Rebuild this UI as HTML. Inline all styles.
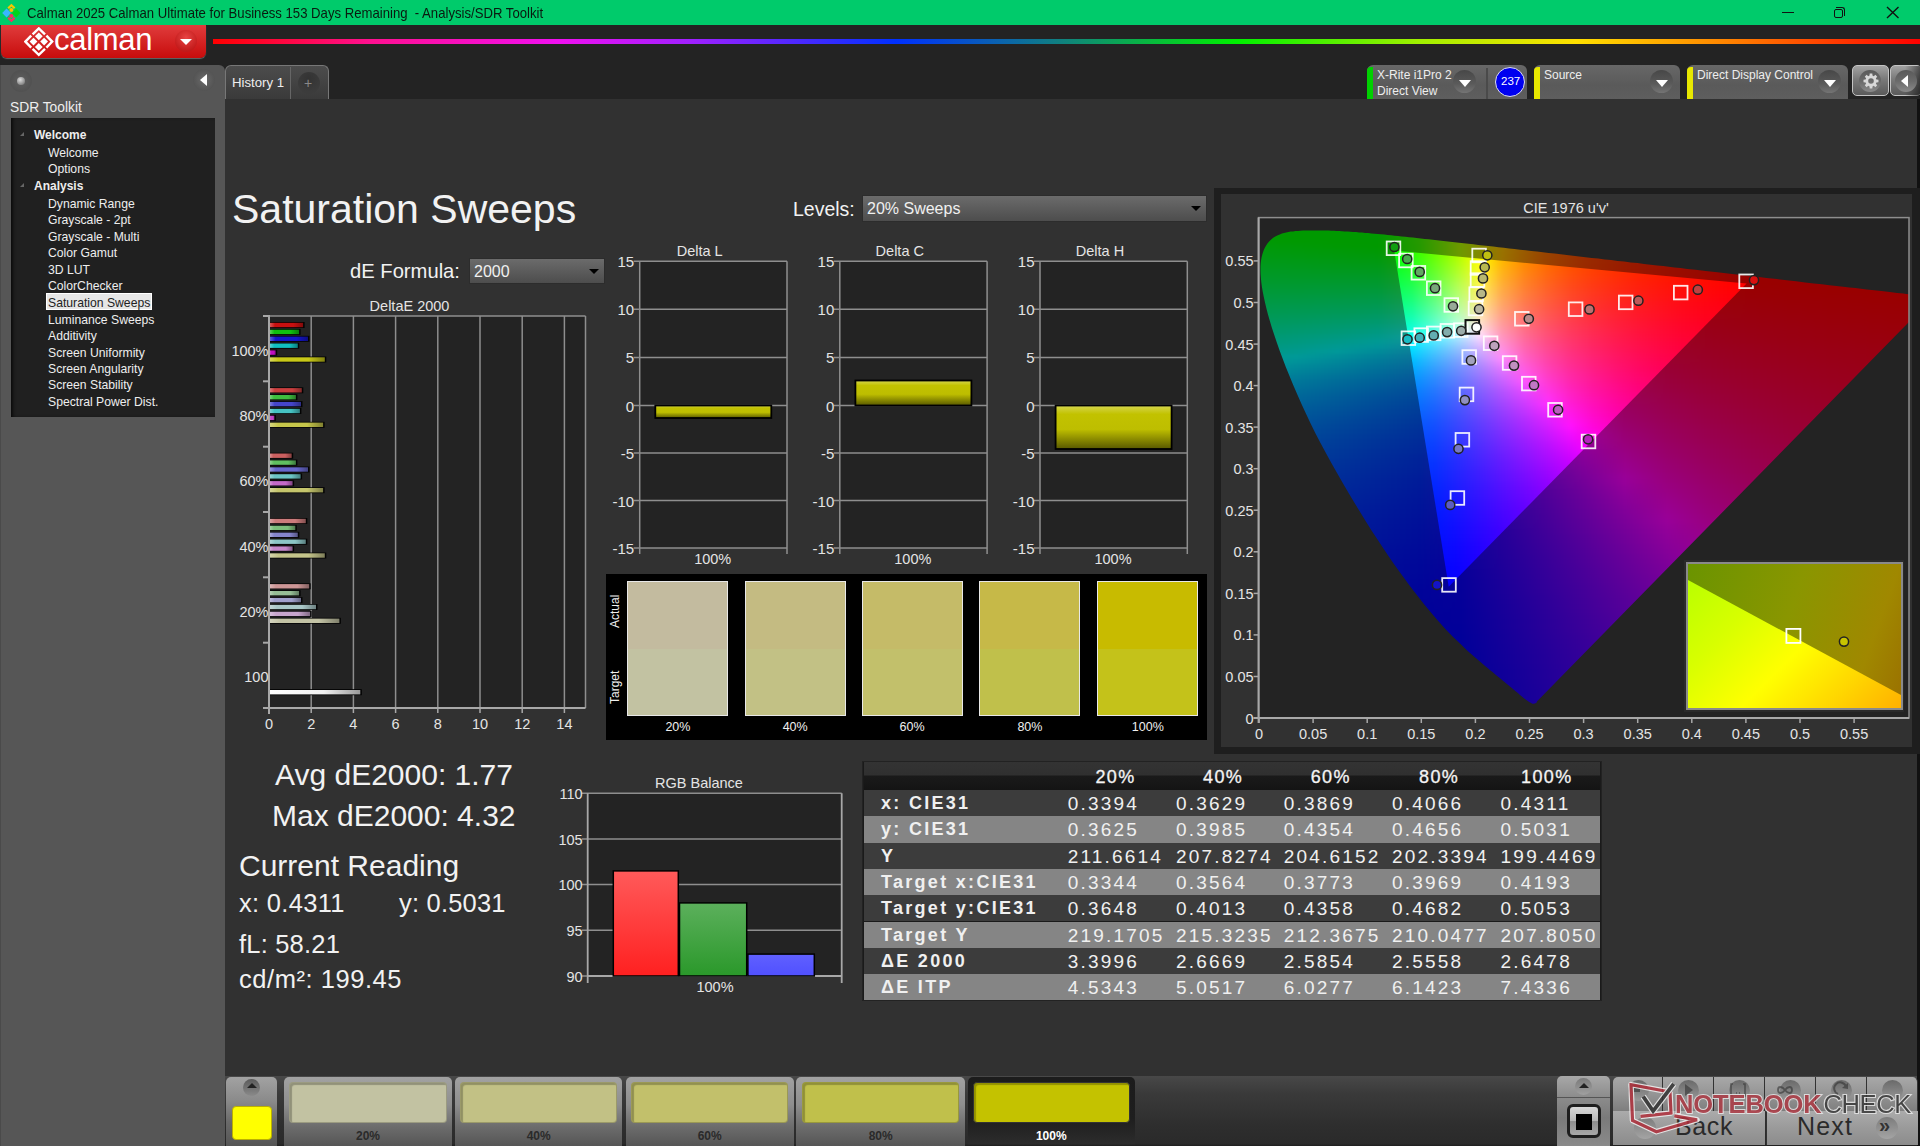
<!DOCTYPE html>
<html><head><meta charset="utf-8"><style>
*{margin:0;padding:0;box-sizing:border-box}
html,body{width:1920px;height:1146px;overflow:hidden;background:#232323;font-family:"Liberation Sans",sans-serif;color:#eee}
.a{position:absolute;white-space:nowrap}
#title{left:0;top:0;width:1920px;height:25px;background:#00cb6b}
#title .t{left:26.5px;top:5px;font-size:14.8px;color:#0a1a10;transform:scaleX(0.888);transform-origin:0 0}
#logo{left:1px;top:25px;width:205px;height:33px;border-radius:0 0 6px 6px;background:linear-gradient(#e03c3c,#c80c0c);box-shadow:0 1px 1px #666}
#rainbow{left:213px;top:39px;width:1707px;height:5px;background:linear-gradient(90deg,#ff0000 0%,#ff1090 9.2%,#f010f0 20.2%,#a020ff 28%,#0030ff 40%,#108080 49.6%,#00f000 60%,#a0f000 70.6%,#ffe000 79.8%,#ff8000 89%,#ff0000 100%)}
#side{left:0;top:65px;width:225px;height:1081px;background:#565656;border-radius:0 6px 0 0;border-left:1px solid #4a4a4a}
#sideR{left:215px;top:118px;width:10px;height:1036px;background:#5e5e5e}
#tree{left:11px;top:118px;width:204px;height:299px;background:#202020;box-shadow:inset 3px 0 4px -2px #000}
#content{left:225px;top:99px;width:1692px;height:1047px;background:#313131}
#rstrip{left:1917px;top:99px;width:3px;height:1047px;background:#111}
.ti{position:absolute;font-size:12.2px;color:#eee;white-space:nowrap}
.tb{font-weight:bold;font-size:12px}
.tri{position:absolute;width:0;height:0;border-left:4px solid transparent;border-bottom:4px solid #666}
.circ{position:absolute;border-radius:50%}
.tbox{position:absolute;top:65px;height:34px;border-radius:6px 6px 0 0;background:linear-gradient(#676767,#5a5a5a 60%,#5e5e5e)}
.tbox .bar{position:absolute;left:0;top:2px;width:6px;bottom:0;border-radius:4px 0 0 0}
.tbox .lbl{position:absolute;left:10px;top:2px;font-size:12px;color:#eee;line-height:16px}
.dd{position:absolute;width:23px;height:23px;border-radius:50%;background:linear-gradient(#474747,#5a5a5a 60%,#747474)}
.dd:after{content:"";position:absolute;left:6px;top:10px;border-left:6px solid transparent;border-right:6px solid transparent;border-top:7px solid #fff}


.tv{font-size:19px;color:#f0f0f0;letter-spacing:2.2px}
.th{font-size:18px;color:#f4f4f4;letter-spacing:1.4px;font-weight:normal;-webkit-text-stroke:0.3px #f4f4f4}
.tl{font-size:18px;font-weight:bold;color:#f0f0f0;letter-spacing:2.3px}
.btn{border-radius:5px 5px 0 0;background:linear-gradient(#a2a2a2,#8a8a8a 35%,#6a6a6a 65%,#555)}
.dd2{position:absolute;background:linear-gradient(#6b6b6b,#4d4d4d);border:1px solid #444;color:#f0f0f0;font-size:16px;padding-left:4px;line-height:26px}
.dd2:after{content:"";position:absolute;right:5.5px;top:10px;border-left:5px solid transparent;border-right:5px solid transparent;border-top:5.5px solid #000}

.cl{position:absolute;overflow:hidden}
.cl div{position:absolute;left:0;width:100%}
.cl .bw{left:0;top:0;width:100%;height:100%;filter:blur(1.6px)}
</style></head><body>
<div id="title" class="a"><div class="a t">Calman 2025 Calman Ultimate for Business 153 Days Remaining&nbsp; - Analysis/SDR Toolkit</div></div>
<svg class="a" style="left:1px;top:3px" width="20" height="20" viewBox="0 0 20 20">
<path d="M6.4 4.6 L10.4 0.8 L14.4 4.6 L12.9 6.1 L10.4 3.7 L7.9 6.1Z" fill="#f7c600"/><circle cx="10.4" cy="6.9" r="2" fill="#f7c600"/>
<path d="M1.2 10 L5.6 5.6 L10 10 L5.6 14.4Z" fill="#38b6ff"/>
<path d="M10.8 10 L15.2 5.6 L19.6 10 L15.2 14.4Z" fill="#00d41c"/>
<path d="M6.4 15.4 L7.9 13.9 L10.4 16.3 L12.9 13.9 L14.4 15.4 L10.4 19.2Z" fill="#ff2a60"/><circle cx="10.4" cy="13.1" r="2" fill="#ff2a60"/>
</svg>
<div class="a" style="left:1782px;top:12px;width:11.5px;height:1px;background:#111"></div>
<div class="a" style="left:1834px;top:9px;width:9px;height:9px;border:1.3px solid #111;border-radius:2px"></div>
<div class="a" style="left:1836px;top:7px;width:9px;height:9px;border-top:1.3px solid #111;border-right:1.3px solid #111;border-radius:0 3px 0 0"></div>
<svg class="a" style="left:1886px;top:6px" width="14" height="14"><path d="M1 1L12.5 12M12.5 1L1 12" stroke="#111" stroke-width="1.4"/></svg>
<div id="logo" class="a"></div>
<svg class="a" style="left:24px;top:27px" width="30" height="30" viewBox="0 0 30 30">
<g fill="none" stroke="#fff" stroke-width="2.4" stroke-linejoin="miter">
<path d="M8.6 7.4 L14.8 1.4 L21 7.4"/><path d="M22.4 8.6 L28.2 14.6 L22.4 20.6"/><path d="M21 21.8 L14.8 27.8 L8.6 21.8"/><path d="M7.2 20.6 L1.4 14.6 L7.2 8.6"/></g>
<g fill="#fff"><path d="M14.8 5.4 L18.7 9.3 L14.8 13.2 L10.9 9.3Z"/><path d="M14.8 16 L18.7 19.9 L14.8 23.8 L10.9 19.9Z"/><path d="M9.5 10.7 L13.4 14.6 L9.5 18.5 L5.6 14.6Z"/><path d="M20.1 10.7 L24 14.6 L20.1 18.5 L16.2 14.6Z"/></g>
</svg>
<div class="a" style="left:54px;top:22px;font-size:31px;color:#fff;letter-spacing:-0.3px">calman</div>
<div class="circ" style="left:175px;top:30px;width:22px;height:22px;background:radial-gradient(circle at 50% 35%,#e84545,#c41c1c 70%,#b51414)"></div>
<div class="a" style="left:180px;top:39px;border-left:6px solid transparent;border-right:6px solid transparent;border-top:6px solid #fff"></div>
<div id="rainbow" class="a"></div>
<div id="side" class="a"></div>
<div class="circ" style="left:10px;top:70px;width:22px;height:22px;background:radial-gradient(circle,#5f5f5f,#4f4f4f 80%)"></div>
<div class="circ" style="left:17px;top:77px;width:8px;height:8px;background:radial-gradient(circle at 40% 35%,#ddd,#888 70%)"></div>
<div class="circ" style="left:193px;top:69px;width:22px;height:22px;background:radial-gradient(circle,#6a6a6a,#4f4f4f 85%)"></div>
<div class="a" style="left:200px;top:74px;border-top:6px solid transparent;border-bottom:6px solid transparent;border-right:7px solid #fff"></div>
<div class="a" style="left:10px;top:100px;font-size:13.8px;color:#eee">SDR Toolkit</div>
<div id="tree" class="a"></div>
<div class="ti tb" style="left:34px;top:127.6px">Welcome</div>
<div class="tri" style="left:20px;top:131.6px"></div>
<div class="ti" style="left:48px;top:145.7px">Welcome</div>
<div class="ti" style="left:48px;top:162.0px">Options</div>
<div class="ti tb" style="left:34px;top:179.0px">Analysis</div>
<div class="tri" style="left:20px;top:183.0px"></div>
<div class="ti" style="left:48px;top:196.5px">Dynamic Range</div>
<div class="ti" style="left:48px;top:213.0px">Grayscale - 2pt</div>
<div class="ti" style="left:48px;top:229.6px">Grayscale - Multi</div>
<div class="ti" style="left:48px;top:246.0px">Color Gamut</div>
<div class="ti" style="left:48px;top:263.0px">3D LUT</div>
<div class="ti" style="left:48px;top:279.0px">ColorChecker</div>
<div class="a" style="left:46px;top:293.1px;width:106px;height:17px;background:#e6e6e6;border:1px solid #fff"></div>
<div class="ti" style="left:48px;top:295.6px;color:#222">Saturation Sweeps</div>
<div class="ti" style="left:48px;top:312.5px">Luminance Sweeps</div>
<div class="ti" style="left:48px;top:329.0px">Additivity</div>
<div class="ti" style="left:48px;top:345.5px">Screen Uniformity</div>
<div class="ti" style="left:48px;top:361.5px">Screen Angularity</div>
<div class="ti" style="left:48px;top:378.0px">Screen Stability</div>
<div class="ti" style="left:48px;top:394.5px">Spectral Power Dist.</div>
<div id="content" class="a"></div>
<div id="rstrip" class="a"></div>
<div class="a" style="left:225px;top:65px;width:104px;height:34px;border-radius:6px 6px 0 0;background:linear-gradient(#4c4c4c,#3a3a3a);border:1px solid #777;border-bottom:none"></div>
<div class="a" style="left:290px;top:67px;width:1px;height:32px;background:#666"></div>
<div class="a" style="left:232px;top:75px;font-size:13.2px;color:#eee">History 1</div>
<div class="circ" style="left:298px;top:72px;width:22px;height:22px;background:radial-gradient(circle at 50% 30%,#333,#3c3c3c 70%)"></div>
<div class="a" style="left:304px;top:75px;font-size:14px;color:#888">+</div>
<div class="tbox" style="left:1367px;width:160px"><div class="bar" style="background:#00d000"></div><div class="lbl">X-Rite i1Pro 2<br>Direct View</div></div>
<div class="dd" style="left:1453px;top:70px"></div>
<div class="a" style="left:1486px;top:68px;width:2px;height:31px;background:#4a4a4a"></div>
<div class="circ" style="left:1495px;top:67px;width:30px;height:30px;background:#0000f0;border:1.5px solid #dde"></div>
<div class="a" style="left:1501px;top:75px;font-size:11.5px;color:#fff">237</div>
<div class="tbox" style="left:1534px;width:146px"><div class="bar" style="background:#e8e800"></div><div class="lbl">Source</div></div>
<div class="dd" style="left:1650px;top:70px"></div>
<div class="tbox" style="left:1687px;width:161px"><div class="bar" style="background:#e8e800"></div><div class="lbl">Direct Display Control</div></div>
<div class="dd" style="left:1818px;top:70px"></div>
<div class="a" style="left:1852px;top:65px;width:37px;height:31px;border-radius:5px;background:linear-gradient(#a2a2a2,#7a7a7a 45%,#5a5a5a);border:1.5px solid #c4c4c4"></div>
<div class="circ" style="left:1859px;top:69.5px;width:22px;height:22px;background:linear-gradient(#5a5a5a,#6a6a6a 50%,#8a8a8a)"></div>
<svg class="a" style="left:1860.5px;top:70.5px" width="20" height="20" viewBox="0 0 20 20"><path fill-rule="evenodd" fill="#d8d8d8" d="M15.40 8.51 L17.49 8.69 L17.49 11.31 L15.40 11.49 L14.87 12.76 L16.22 14.37 L14.37 16.22 L12.76 14.87 L11.49 15.40 L11.31 17.49 L8.69 17.49 L8.51 15.40 L7.24 14.87 L5.63 16.22 L3.78 14.37 L5.13 12.76 L4.60 11.49 L2.51 11.31 L2.51 8.69 L4.60 8.51 L5.13 7.24 L3.78 5.63 L5.63 3.78 L7.24 5.13 L8.51 4.60 L8.69 2.51 L11.31 2.51 L11.49 4.60 L12.76 5.13 L14.37 3.78 L16.22 5.63 L14.87 7.24Z M12.8 10 A2.8 2.8 0 1 0 7.2 10 A2.8 2.8 0 1 0 12.8 10Z"/></svg>
<div class="a" style="left:1890px;top:65px;width:32px;height:31px;border-radius:5px;background:linear-gradient(#a2a2a2,#7a7a7a 45%,#5a5a5a);border:1.5px solid #c4c4c4"></div><div class="a" style="left:1905px;top:66px;width:15px;height:30px;background:linear-gradient(90deg,rgba(0,0,0,0),rgba(0,0,0,0.5))"></div>
<div class="circ" style="left:1894.5px;top:69.5px;width:22px;height:22px;background:linear-gradient(#5a5a5a,#6a6a6a 50%,#8a8a8a)"></div>
<div class="a" style="left:1901px;top:75px;border-top:6px solid transparent;border-bottom:6px solid transparent;border-right:7px solid #fff"></div>
<div class="a" style="left:232px;top:186px;font-size:41px;color:#f2f2f2">Saturation Sweeps</div>
<div class="a" style="left:350px;top:260px;font-size:20.2px;color:#f2f2f2">dE Formula:</div>
<div class="dd2" style="left:469px;top:257.5px;width:136px;height:26.5px;border-color:#2c2c2c">2000</div>
<div class="a" style="left:793px;top:198px;font-size:19.5px;color:#f2f2f2">Levels:</div>
<div class="dd2" style="left:862px;top:195px;width:345px;height:26.5px;border-color:#2c2c2c">20% Sweeps</div>
<div class="a" style="left:1214px;top:188px;width:706px;height:566px;background:#1e1e1e"></div>
<div class="a" style="left:1221px;top:194px;width:691px;height:553px;background:#313131"></div>
<div class="a" style="left:1258.6px;top:217.6px;width:650.4000000000001px;height:500.4px;background:#232323"></div>
<div class="cl" style="left:1258.6px;top:228.4px;width:650.4px;height:477.4px;clip-path:polygon(278.3px 473.0px,278.3px 473.1px,278.3px 473.3px,278.2px 473.5px,278.2px 473.7px,278.1px 474.0px,278.0px 474.1px,277.9px 474.2px,277.8px 474.3px,277.6px 474.4px,277.5px 474.5px,277.3px 474.5px,277.1px 474.6px,277.0px 474.7px,276.8px 474.8px,276.6px 475.0px,276.3px 475.1px,276.1px 475.2px,275.8px 475.2px,275.5px 475.3px,275.2px 475.3px,274.9px 475.4px,274.5px 475.4px,274.0px 475.3px,273.3px 475.0px,272.5px 474.6px,271.6px 474.1px,270.6px 473.5px,269.5px 472.8px,268.1px 471.9px,266.7px 470.8px,265.0px 469.5px,263.3px 468.1px,261.4px 466.5px,259.3px 464.7px,257.0px 462.8px,254.4px 460.6px,251.4px 458.1px,248.0px 455.3px,244.4px 452.4px,240.8px 449.4px,237.3px 446.5px,234.2px 443.9px,231.6px 441.8px,229.3px 439.8px,227.1px 438.1px,225.0px 436.3px,222.8px 434.4px,220.4px 432.4px,217.8px 430.1px,215.1px 427.8px,212.3px 425.3px,209.4px 422.8px,206.5px 420.1px,203.5px 417.2px,200.4px 414.2px,197.2px 411.2px,194.0px 408.0px,190.6px 404.6px,187.0px 400.8px,183.2px 396.6px,179.2px 392.0px,174.9px 387.1px,170.5px 381.9px,165.9px 376.3px,161.2px 370.4px,156.3px 364.1px,151.3px 357.5px,146.2px 350.6px,140.9px 343.3px,135.5px 335.8px,130.0px 327.9px,124.5px 319.7px,118.9px 311.2px,113.1px 302.3px,107.3px 293.1px,101.5px 283.7px,95.7px 274.1px,90.0px 264.5px,84.3px 254.8px,78.6px 244.9px,72.9px 234.8px,67.3px 224.7px,61.9px 214.7px,56.8px 204.8px,52.0px 195.0px,47.3px 185.2px,42.9px 175.5px,38.6px 165.9px,34.6px 156.5px,30.9px 147.5px,27.3px 138.8px,24.1px 130.3px,21.0px 122.0px,18.2px 114.0px,15.6px 106.4px,13.2px 99.2px,11.2px 92.3px,9.3px 85.9px,7.7px 79.7px,6.4px 74.0px,5.2px 68.5px,4.1px 63.2px,3.3px 58.4px,2.7px 53.8px,2.3px 49.6px,2.0px 45.6px,1.9px 41.8px,1.9px 38.2px,2.1px 34.8px,2.5px 31.7px,3.0px 28.8px,3.7px 26.0px,4.5px 23.5px,5.4px 21.1px,6.5px 18.8px,7.7px 16.8px,9.0px 14.9px,10.5px 13.2px,12.0px 11.6px,13.7px 10.1px,15.4px 8.9px,17.2px 7.8px,19.2px 6.8px,21.2px 6.0px,23.3px 5.2px,25.4px 4.6px,27.6px 4.0px,29.8px 3.6px,32.2px 3.2px,34.5px 3.0px,36.9px 2.7px,39.3px 2.5px,41.8px 2.3px,44.3px 2.2px,46.9px 2.1px,49.4px 2.1px,52.0px 2.0px,54.6px 2.0px,57.1px 2.0px,59.7px 2.0px,62.2px 2.0px,64.8px 2.1px,67.4px 2.1px,70.0px 2.2px,72.6px 2.3px,75.3px 2.4px,77.9px 2.5px,80.6px 2.6px,83.4px 2.8px,86.1px 3.0px,88.9px 3.1px,91.8px 3.3px,94.6px 3.5px,97.5px 3.7px,100.5px 4.0px,103.5px 4.2px,106.5px 4.5px,109.6px 4.7px,112.7px 5.0px,115.9px 5.3px,119.1px 5.6px,122.3px 5.9px,125.7px 6.2px,129.0px 6.6px,132.5px 6.9px,136.0px 7.3px,139.5px 7.6px,143.1px 8.0px,146.8px 8.4px,150.5px 8.8px,154.3px 9.2px,158.1px 9.6px,162.1px 10.0px,166.1px 10.5px,170.1px 10.9px,174.3px 11.4px,178.5px 11.8px,182.7px 12.3px,187.1px 12.8px,191.5px 13.3px,196.0px 13.8px,200.5px 14.3px,205.2px 14.8px,209.9px 15.4px,214.7px 15.9px,219.6px 16.5px,224.5px 17.0px,229.6px 17.6px,234.7px 18.2px,239.9px 18.8px,245.2px 19.4px,250.5px 20.0px,255.9px 20.6px,261.5px 21.3px,267.0px 21.9px,272.7px 22.6px,278.4px 23.2px,284.3px 23.9px,290.1px 24.6px,296.1px 25.2px,302.1px 25.9px,308.2px 26.6px,314.4px 27.3px,320.6px 28.1px,326.9px 28.8px,333.2px 29.5px,339.6px 30.2px,346.1px 31.0px,352.6px 31.7px,359.1px 32.5px,365.6px 33.2px,372.2px 34.0px,378.9px 34.7px,385.5px 35.5px,392.1px 36.3px,398.7px 37.0px,404.7px 37.7px,410.3px 38.4px,415.9px 39.0px,421.9px 39.7px,428.7px 40.5px,437.0px 41.4px,447.1px 42.6px,458.8px 43.9px,471.4px 45.4px,484.3px 46.8px,496.7px 48.2px,508.0px 49.5px,518.3px 50.7px,528.2px 51.9px,537.6px 52.9px,546.6px 54.0px,555.2px 55.0px,563.3px 55.9px,570.9px 56.8px,577.9px 57.6px,584.6px 58.3px,590.8px 59.0px,596.8px 59.7px,602.5px 60.4px,608.0px 61.0px,613.2px 61.6px,618.1px 62.2px,622.8px 62.7px,627.1px 63.2px,631.2px 63.7px,635.0px 64.1px,638.5px 64.5px,641.7px 64.9px,644.7px 65.2px,647.5px 65.5px,650.1px 65.9px,652.5px 66.1px,654.6px 66.4px,656.6px 66.6px,658.4px 66.8px,660.3px 67.0px,662.2px 67.3px,664.5px 67.5px,666.9px 67.8px,669.3px 68.1px,671.6px 68.3px,673.5px 68.6px,674.9px 68.7px)">
<div class="bw">
<div style="top:-4px;height:6px;left:-4px;right:-4px;width:auto;background:linear-gradient(90deg,#009900 0px,#009900 41px,#009900 82px,#009900 123px,#289900 165px,#6c9900 206px,#997800 247px,#994b00 288px,#993200 329px,#992100 370px,#991600 412px,#990d00 453px,#990700 494px,#990100 535px,#990000 576px,#990000 617px,#990000 658px)"></div>
<div style="top:1px;height:6px;left:-4px;right:-4px;width:auto;background:linear-gradient(90deg,#009900 0px,#009900 41px,#009900 82px,#009900 123px,#279900 165px,#6d9900 206px,#997600 247px,#994a00 288px,#993100 329px,#992100 370px,#991500 412px,#990d00 453px,#990600 494px,#990100 535px,#990000 576px,#990000 617px,#990000 658px)"></div>
<div style="top:6px;height:6px;left:-4px;right:-4px;width:auto;background:linear-gradient(90deg,#009900 0px,#009900 41px,#009900 82px,#009900 123px,#279900 165px,#6d9900 206px,#997500 247px,#994900 288px,#993000 329px,#992000 370px,#991400 412px,#990c00 453px,#990500 494px,#990000 535px,#990000 576px,#990000 617px,#990000 658px)"></div>
<div style="top:11px;height:6px;left:-4px;right:-4px;width:auto;background:linear-gradient(90deg,#009904 0px,#009901 41px,#009900 82px,#009900 123px,#269900 165px,#6d9900 206px,#997400 247px,#994800 288px,#992f00 329px,#991f00 370px,#991400 412px,#990b00 453px,#990500 494px,#990000 535px,#990000 576px,#990000 617px,#990000 658px)"></div>
<div style="top:16px;height:6px;left:-4px;right:-4px;width:auto;background:linear-gradient(90deg,#009909 0px,#009906 41px,#009902 82px,#009900 123px,#259900 165px,#6e9900 206px,#997300 247px,#994700 288px,#992e00 329px,#991e00 370px,#991300 412px,#990b00 453px,#990400 494px,#990000 535px,#990000 576px,#990000 617px,#990000 658px)"></div>
<div style="top:21px;height:6px;left:-4px;right:-4px;width:auto;background:linear-gradient(90deg,#00990e 0px,#00990b 41px,#009908 82px,#009904 123px,#259900 165px,#6e9900 206px,#997200 247px,#994600 288px,#992d00 329px,#991d00 370px,#991200 412px,#990a00 453px,#990400 494px,#990000 535px,#990000 576px,#990000 617px,#990000 658px)"></div>
<div style="top:26px;height:6px;left:-4px;right:-4px;width:auto;background:linear-gradient(90deg,#009912 0px,#009910 41px,#00990d 82px,#00990a 123px,#249906 165px,#6e9900 206px,#997100 247px,#994500 288px,#992c00 329px,#991c00 370px,#991100 412px,#990900 453px,#990300 494px,#990000 535px,#990000 576px,#990000 617px,#990000 658px)"></div>
<div style="top:31px;height:6px;left:-4px;right:-4px;width:auto;background:linear-gradient(90deg,#009917 0px,#009916 41px,#009913 82px,#009910 123px,#23990d 165px,#6f9908 206px,#997002 247px,#994400 288px,#992b00 329px,#991c00 370px,#991100 412px,#990900 453px,#990200 494px,#990000 535px,#990000 576px,#990000 617px,#990000 658px)"></div>
<div style="top:36px;height:6px;left:-4px;right:-4px;width:auto;background:linear-gradient(90deg,#00991d 0px,#00991b 41px,#009919 82px,#009917 123px,#229914 165px,#6f9911 206px,#996e09 247px,#994302 288px,#992a00 329px,#991b00 370px,#991000 412px,#990800 453px,#990200 494px,#990000 535px,#990000 576px,#990000 617px,#990000 658px)"></div>
<div style="top:41px;height:6px;left:-4px;right:-4px;width:auto;background:linear-gradient(90deg,#009922 0px,#009921 41px,#00991f 82px,#00991e 123px,#22991c 165px,#709919 206px,#996d10 247px,#994207 288px,#992903 329px,#991a00 370px,#990f00 412px,#990700 453px,#990100 494px,#990000 535px,#990000 576px,#990000 617px,#990000 658px)"></div>
<div style="top:46px;height:6px;left:-4px;right:-4px;width:auto;background:linear-gradient(90deg,#009927 0px,#009926 41px,#009926 82px,#009925 123px,#219924 165px,#709922 206px,#996c17 247px,#99400c 288px,#992807 329px,#991903 370px,#990e01 412px,#990700 453px,#990100 494px,#990000 535px,#990000 576px,#990000 617px,#990000 658px)"></div>
<div style="top:51px;height:6px;left:-4px;right:-4px;width:auto;background:linear-gradient(90deg,#00992c 0px,#00992c 41px,#00992c 82px,#00992c 123px,#20992c 165px,#70992b 206px,#996b1e 247px,#993f11 288px,#99270b 329px,#991806 370px,#990e03 412px,#990601 453px,#990000 494px,#990000 535px,#990000 576px,#990000 617px,#990000 658px)"></div>
<div style="top:56px;height:6px;left:-4px;right:-4px;width:auto;background:linear-gradient(90deg,#009932 0px,#009932 41px,#009933 82px,#009933 123px,#1f9934 165px,#719935 206px,#996925 247px,#993e16 288px,#99260e 329px,#991709 370px,#990d06 412px,#990503 453px,#990001 494px,#990000 535px,#990000 576px,#990000 617px,#990000 658px)"></div>
<div style="top:61px;height:6px;left:-4px;right:-4px;width:auto;background:linear-gradient(90deg,#009938 0px,#009938 41px,#009939 82px,#00993b 123px,#1e993c 165px,#71993f 206px,#99682c 247px,#993d1c 288px,#992512 329px,#99160d 370px,#990c09 412px,#990506 453px,#990003 494px,#990002 535px,#990000 576px,#990000 617px,#990000 658px)"></div>
<div style="top:66px;height:6px;left:-4px;right:-4px;width:auto;background:linear-gradient(90deg,#00993d 0px,#00993f 41px,#009940 82px,#009943 123px,#1d9945 165px,#729949 206px,#996734 247px,#993c21 288px,#992416 329px,#991510 370px,#990b0b 412px,#990408 453px,#990005 494px,#990003 535px,#990002 576px,#990001 617px,#990000 658px)"></div>
<div style="top:71px;height:6px;left:-4px;right:-4px;width:auto;background:linear-gradient(90deg,#009943 0px,#009945 41px,#009948 82px,#00994b 123px,#1c994e 165px,#729953 206px,#99653c 247px,#993b26 288px,#99231a 329px,#991513 370px,#990a0e 412px,#99030a 453px,#990008 494px,#990005 535px,#990004 576px,#990002 617px,#990001 658px)"></div>
<div style="top:76px;height:6px;left:-4px;right:-4px;width:auto;background:linear-gradient(90deg,#009949 0px,#00994c 41px,#00994f 82px,#009953 123px,#1c9958 165px,#73995e 206px,#996443 247px,#99392c 288px,#99221f 329px,#991416 370px,#990a11 412px,#99020d 453px,#99000a 494px,#990007 535px,#990005 576px,#990004 617px,#990002 658px)"></div>
<div style="top:81px;height:6px;left:-4px;right:-4px;width:auto;background:linear-gradient(90deg,#00994f 0px,#009952 41px,#009956 82px,#00995b 123px,#1b9961 165px,#73996a 206px,#99634b 247px,#993831 288px,#992123 329px,#99131a 370px,#990914 412px,#99020f 453px,#99000c 494px,#990009 535px,#990007 576px,#990005 617px,#990004 658px)"></div>
<div style="top:86px;height:6px;left:-4px;right:-4px;width:auto;background:linear-gradient(90deg,#009955 0px,#009959 41px,#00995e 82px,#009964 123px,#1a996b 165px,#749975 206px,#996153 247px,#993736 288px,#992027 329px,#99121d 370px,#990816 412px,#990112 453px,#99000e 494px,#99000b 535px,#990009 576px,#990007 617px,#990005 658px)"></div>
<div style="top:91px;height:6px;left:-4px;right:-4px;width:auto;background:linear-gradient(90deg,#00995c 0px,#009960 41px,#009966 82px,#00996d 123px,#189976 165px,#749982 206px,#99605b 247px,#99363c 288px,#991f2b 329px,#991120 370px,#990719 412px,#990014 453px,#990010 494px,#99000d 535px,#99000a 576px,#990008 617px,#990006 658px)"></div>
<div style="top:96px;height:6px;left:-4px;right:-4px;width:auto;background:linear-gradient(90deg,#009962 0px,#009968 41px,#00996e 82px,#009976 123px,#179980 165px,#75998e 206px,#995e64 247px,#993442 288px,#991e2f 329px,#991024 370px,#99061c 412px,#990016 453px,#990012 494px,#99000f 535px,#99000c 576px,#99000a 617px,#990008 658px)"></div>
<div style="top:101px;height:6px;left:-4px;right:-4px;width:auto;background:linear-gradient(90deg,#009969 0px,#00996f 41px,#009976 82px,#009980 123px,#16998c 165px,#739699 206px,#995d6c 247px,#993347 288px,#991d33 329px,#990f27 370px,#99061f 412px,#990019 453px,#990014 494px,#990011 535px,#99000e 576px,#99000b 617px,#990009 658px)"></div>
<div style="top:106px;height:6px;left:-4px;right:-4px;width:auto;background:linear-gradient(90deg,#009970 0px,#009977 41px,#00997f 82px,#009989 123px,#159997 165px,#6b8a99 206px,#995b75 247px,#99324d 288px,#991c38 329px,#990e2b 370px,#990522 412px,#99001b 453px,#990016 494px,#990012 535px,#99000f 576px,#99000d 617px,#99000b 658px)"></div>
<div style="top:111px;height:6px;left:-4px;right:-4px;width:auto;background:linear-gradient(90deg,#009977 0px,#00997e 41px,#009988 82px,#009993 123px,#139099 165px,#637f99 206px,#995a7e 247px,#993053 288px,#991b3c 329px,#990d2e 370px,#990425 412px,#99001e 453px,#990018 494px,#990014 535px,#990011 576px,#99000e 617px,#99000c 658px)"></div>
<div style="top:116px;height:6px;left:-4px;right:-4px;width:auto;background:linear-gradient(90deg,#00997e 0px,#009986 41px,#009991 82px,#009499 123px,#108699 165px,#5c7699 206px,#995886 247px,#992f59 288px,#991a41 329px,#990c32 370px,#990328 412px,#990020 453px,#99001b 494px,#990016 535px,#990013 576px,#990010 617px,#99000e 658px)"></div>
<div style="top:121px;height:6px;left:-4px;right:-4px;width:auto;background:linear-gradient(90deg,#009985 0px,#00998e 41px,#009899 82px,#008b99 123px,#0e7c99 165px,#566d99 206px,#99578f 247px,#992e5f 288px,#991845 329px,#990b35 370px,#99022a 412px,#990023 453px,#99001d 494px,#990018 535px,#990015 576px,#990012 617px,#99000f 658px)"></div>
<div style="top:126px;height:6px;left:-4px;right:-4px;width:auto;background:linear-gradient(90deg,#00998d 0px,#009997 41px,#008f99 82px,#008299 123px,#0c7499 165px,#506599 206px,#995599 247px,#992c65 288px,#991749 329px,#990a39 370px,#99012d 412px,#990025 453px,#99001f 494px,#99001a 535px,#990016 576px,#990013 617px,#990010 658px)"></div>
<div style="top:131px;height:6px;left:-4px;right:-4px;width:auto;background:linear-gradient(90deg,#009994 0px,#009399 41px,#008799 82px,#007a99 123px,#0a6d99 165px,#4b5e99 206px,#904f99 247px,#992b6b 288px,#99164e 329px,#99093c 370px,#990130 412px,#990028 453px,#990021 494px,#99001c 535px,#990018 576px,#990015 617px,#990012 658px)"></div>
<div style="top:136px;height:6px;left:-4px;right:-4px;width:auto;background:linear-gradient(90deg,#009699 0px,#008b99 41px,#008099 82px,#007399 123px,#096699 165px,#465899 206px,#884999 247px,#992a71 288px,#991552 329px,#990840 370px,#990033 412px,#99002a 453px,#990023 494px,#99001e 535px,#99001a 576px,#990016 617px,#990013 658px)"></div>
<div style="top:141px;height:6px;left:-4px;right:-4px;width:auto;background:linear-gradient(90deg,#008f99 0px,#008499 41px,#007999 82px,#006d99 123px,#076099 165px,#425299 206px,#814399 247px,#992877 288px,#991457 329px,#990743 370px,#990036 412px,#99002d 453px,#990026 494px,#990020 535px,#99001c 576px,#990018 617px,#990015 658px)"></div>
<div style="top:146px;height:6px;left:-4px;right:-4px;width:auto;background:linear-gradient(90deg,#008899 0px,#007d99 41px,#007299 82px,#006799 123px,#065a99 165px,#3e4d99 206px,#7a3e99 247px,#99277d 288px,#99135c 329px,#990647 370px,#990039 412px,#99002f 453px,#990028 494px,#990022 535px,#99001d 576px,#99001a 617px,#990016 658px)"></div>
<div style="top:151px;height:6px;left:-4px;right:-4px;width:auto;background:linear-gradient(90deg,#008299 0px,#007799 41px,#006c99 82px,#006199 123px,#055599 165px,#3b4899 206px,#743a99 247px,#992584 288px,#991160 329px,#99054b 370px,#99003c 412px,#990032 453px,#99002a 494px,#990024 535px,#99001f 576px,#99001b 617px,#990018 658px)"></div>
<div style="top:156px;height:6px;left:-4px;right:-4px;width:auto;background:linear-gradient(90deg,#007c99 0px,#007299 41px,#006799 82px,#005c99 123px,#035099 165px,#374399 206px,#6f3699 247px,#99248a 288px,#991065 329px,#99044f 370px,#99003f 412px,#990035 453px,#99002c 494px,#990026 535px,#990021 576px,#99001d 617px,#990019 658px)"></div>
<div style="top:161px;height:6px;left:-4px;right:-4px;width:auto;background:linear-gradient(90deg,#007699 0px,#006c99 41px,#006299 82px,#005799 123px,#024b99 165px,#343f99 206px,#693299 247px,#992291 288px,#990f6a 329px,#990352 370px,#990042 412px,#990037 453px,#99002f 494px,#990028 535px,#990023 576px,#99001e 617px,#99001b 658px)"></div>
<div style="top:166px;height:6px;left:-4px;right:-4px;width:auto;background:linear-gradient(90deg,#007199 0px,#006799 41px,#005d99 82px,#005299 123px,#014799 165px,#323b99 206px,#652e99 247px,#992198 288px,#990e6f 329px,#990256 370px,#990046 412px,#99003a 453px,#990031 494px,#99002a 535px,#990024 576px,#990020 617px,#99001c 658px)"></div>
<div style="top:171px;height:6px;left:-4px;right:-4px;width:auto;background:linear-gradient(90deg,#006c99 0px,#006399 41px,#005999 82px,#004e99 123px,#004399 165px,#2f3799 206px,#602b99 247px,#941e99 288px,#990c74 329px,#99015a 370px,#990049 412px,#99003c 453px,#990033 494px,#99002c 535px,#990026 576px,#990022 617px,#99001e 658px)"></div>
<div style="top:176px;height:6px;left:-4px;right:-4px;width:auto;background:linear-gradient(90deg,#006899 0px,#005e99 41px,#005599 82px,#004a99 123px,#003f99 165px,#2c3499 206px,#5c2899 247px,#8e1c99 288px,#990b78 329px,#99005e 370px,#99004c 412px,#99003f 453px,#990035 494px,#99002e 535px,#990028 576px,#990023 617px,#99001f 658px)"></div>
<div style="top:181px;height:6px;left:-4px;right:-4px;width:auto;background:linear-gradient(90deg,#006399 0px,#005a99 41px,#005199 82px,#004799 123px,#003c99 165px,#2a3199 206px,#582599 247px,#881999 288px,#990a7d 329px,#990062 370px,#99004f 412px,#990042 453px,#990038 494px,#990030 535px,#99002a 576px,#990025 617px,#990021 658px)"></div>
<div style="top:186px;height:6px;left:-4px;right:-4px;width:auto;background:linear-gradient(90deg,#005f99 0px,#005699 41px,#004d99 82px,#004399 123px,#003999 165px,#282e99 206px,#542399 247px,#831799 288px,#990982 329px,#990065 370px,#990052 412px,#990044 453px,#99003a 494px,#990032 535px,#99002c 576px,#990027 617px,#990022 658px)"></div>
<div style="top:191px;height:6px;left:-4px;right:-4px;width:auto;background:linear-gradient(90deg,#005b99 0px,#005399 41px,#004999 82px,#004099 123px,#003699 165px,#262b99 206px,#512099 247px,#7e1499 288px,#990788 329px,#990069 370px,#990055 412px,#990047 453px,#99003c 494px,#990034 535px,#99002e 576px,#990028 617px,#990024 658px)"></div>
<div style="top:196px;height:6px;left:-4px;right:-4px;width:auto;background:linear-gradient(90deg,#005899 0px,#004f99 41px,#004699 82px,#003d99 123px,#003399 165px,#242899 206px,#4e1e99 247px,#791299 288px,#99068d 329px,#99006d 370px,#990059 412px,#99004a 453px,#99003f 494px,#990036 535px,#99002f 576px,#99002a 617px,#990025 658px)"></div>
<div style="top:201px;height:6px;left:-4px;right:-4px;width:auto;background:linear-gradient(90deg,#005499 0px,#004c99 41px,#004399 82px,#003a99 123px,#003099 165px,#222699 206px,#4b1b99 247px,#751099 288px,#990592 329px,#990071 370px,#99005c 412px,#99004d 453px,#990041 494px,#990038 535px,#990031 576px,#99002c 617px,#990027 658px)"></div>
<div style="top:206px;height:6px;left:-4px;right:-4px;width:auto;background:linear-gradient(90deg,#005199 0px,#004999 41px,#004099 82px,#003799 123px,#002e99 165px,#212499 206px,#481999 247px,#700f99 288px,#990397 329px,#990075 370px,#99005f 412px,#99004f 453px,#990044 494px,#99003a 535px,#990033 576px,#99002d 617px,#990028 658px)"></div>
<div style="top:211px;height:6px;left:-4px;right:-4px;width:auto;background:linear-gradient(90deg,#004e99 0px,#004699 41px,#003d99 82px,#003499 123px,#002b99 165px,#1f2199 206px,#451799 247px,#6c0d99 288px,#960299 329px,#990079 370px,#990062 412px,#990052 453px,#990046 494px,#99003c 535px,#990035 576px,#99002f 617px,#99002a 658px)"></div>
<div style="top:216px;height:6px;left:-4px;right:-4px;width:auto;background:linear-gradient(90deg,#004b99 0px,#004399 41px,#003b99 82px,#003299 123px,#002999 165px,#1e1f99 206px,#421699 247px,#690b99 288px,#910199 329px,#99007d 370px,#990066 412px,#990055 453px,#990048 494px,#99003f 535px,#990037 576px,#990031 617px,#99002b 658px)"></div>
<div style="top:221px;height:6px;left:-4px;right:-4px;width:auto;background:linear-gradient(90deg,#004899 0px,#004099 41px,#003899 82px,#002f99 123px,#002799 165px,#1c1d99 206px,#401499 247px,#650a99 288px,#8c0099 329px,#990082 370px,#990069 412px,#990058 453px,#99004b 494px,#990041 535px,#990039 576px,#990032 617px,#99002d 658px)"></div>
<div style="top:226px;height:6px;left:-4px;right:-4px;width:auto;background:linear-gradient(90deg,#004599 0px,#003e99 41px,#003699 82px,#002d99 123px,#002499 165px,#1b1b99 206px,#3e1299 247px,#620899 288px,#880099 329px,#990086 370px,#99006c 412px,#99005a 453px,#99004d 494px,#990043 535px,#99003b 576px,#990034 617px,#99002e 658px)"></div>
<div style="top:231px;height:6px;left:-4px;right:-4px;width:auto;background:linear-gradient(90deg,#004399 0px,#003b99 41px,#003399 82px,#002b99 123px,#002299 165px,#191a99 206px,#3b1099 247px,#5f0799 288px,#840099 329px,#99008a 370px,#990070 412px,#99005d 453px,#990050 494px,#990045 535px,#99003d 576px,#990036 617px,#990030 658px)"></div>
<div style="top:236px;height:6px;left:-4px;right:-4px;width:auto;background:linear-gradient(90deg,#004099 0px,#003999 41px,#003199 82px,#002999 123px,#002199 165px,#181899 206px,#390f99 247px,#5c0699 288px,#800099 329px,#99008e 370px,#990073 412px,#990060 453px,#990052 494px,#990047 535px,#99003e 576px,#990037 617px,#990032 658px)"></div>
<div style="top:241px;height:6px;left:-4px;right:-4px;width:auto;background:linear-gradient(90deg,#003e99 0px,#003799 41px,#002f99 82px,#002799 123px,#001f99 165px,#171699 206px,#370d99 247px,#590499 288px,#7c0099 329px,#990092 370px,#990076 412px,#990063 453px,#990054 494px,#990049 535px,#990040 576px,#990039 617px,#990033 658px)"></div>
<div style="top:246px;height:6px;left:-4px;right:-4px;width:auto;background:linear-gradient(90deg,#003c99 0px,#003499 41px,#002d99 82px,#002599 123px,#001d99 165px,#161599 206px,#350c99 247px,#560399 288px,#780099 329px,#990097 370px,#99007a 412px,#990066 453px,#990057 494px,#99004b 535px,#990042 576px,#99003b 617px,#990035 658px)"></div>
<div style="top:251px;height:6px;left:-4px;right:-4px;width:auto;background:linear-gradient(90deg,#003a99 0px,#003299 41px,#002b99 82px,#002399 123px,#001b99 165px,#151399 206px,#340b99 247px,#540299 288px,#750099 329px,#970099 370px,#99007d 412px,#990069 453px,#990059 494px,#99004e 535px,#990044 576px,#99003d 617px,#990036 658px)"></div>
<div style="top:256px;height:6px;left:-4px;right:-4px;width:auto;background:linear-gradient(90deg,#003799 0px,#003099 41px,#002999 82px,#002299 123px,#001a99 165px,#141299 206px,#320a99 247px,#510199 288px,#710099 329px,#930099 370px,#990081 412px,#99006c 453px,#99005c 494px,#990050 535px,#990046 576px,#99003e 617px,#990038 658px)"></div>
<div style="top:261px;height:6px;left:-4px;right:-4px;width:auto;background:linear-gradient(90deg,#003599 0px,#002f99 41px,#002799 82px,#002099 123px,#001899 165px,#131099 206px,#300899 247px,#4f0099 288px,#6e0099 329px,#8f0099 370px,#990084 412px,#99006f 453px,#99005e 494px,#990052 535px,#990048 576px,#990040 617px,#990039 658px)"></div>
<div style="top:266px;height:6px;left:-4px;right:-4px;width:auto;background:linear-gradient(90deg,#003499 0px,#002d99 41px,#002699 82px,#001e99 123px,#001799 165px,#120f99 206px,#2f0799 247px,#4d0099 288px,#6b0099 329px,#8b0099 370px,#990088 412px,#990071 453px,#990061 494px,#990054 535px,#99004a 576px,#990042 617px,#99003b 658px)"></div>
<div style="top:271px;height:6px;left:-4px;right:-4px;width:auto;background:linear-gradient(90deg,#003299 0px,#002b99 41px,#002499 82px,#001d99 123px,#001599 165px,#110e99 206px,#2d0699 247px,#4a0099 288px,#680099 329px,#880099 370px,#99008c 412px,#990074 453px,#990063 494px,#990056 535px,#99004c 576px,#990044 617px,#99003d 658px)"></div>
<div style="top:276px;height:6px;left:-4px;right:-4px;width:auto;background:linear-gradient(90deg,#003099 0px,#002999 41px,#002299 82px,#001b99 123px,#001499 165px,#100d99 206px,#2c0599 247px,#480099 288px,#660099 329px,#840099 370px,#99008f 412px,#990077 453px,#990066 494px,#990058 535px,#99004e 576px,#990045 617px,#99003e 658px)"></div>
<div style="top:281px;height:6px;left:-4px;right:-4px;width:auto;background:linear-gradient(90deg,#002e99 0px,#002899 41px,#002199 82px,#001a99 123px,#001399 165px,#0f0c99 206px,#2a0499 247px,#460099 288px,#630099 329px,#810099 370px,#990093 412px,#99007a 453px,#990068 494px,#99005b 535px,#990050 576px,#990047 617px,#990040 658px)"></div>
<div style="top:286px;height:6px;left:-4px;right:-4px;width:auto;background:linear-gradient(90deg,#002d99 0px,#002699 41px,#001f99 82px,#001999 123px,#001299 165px,#0e0a99 206px,#290399 247px,#440099 288px,#610099 329px,#7e0099 370px,#990096 412px,#99007d 453px,#99006b 494px,#99005d 535px,#990052 576px,#990049 617px,#990041 658px)"></div>
<div style="top:291px;height:6px;left:-4px;right:-4px;width:auto;background:linear-gradient(90deg,#002b99 0px,#002599 41px,#001e99 82px,#001799 123px,#001099 165px,#0e0999 206px,#280299 247px,#430099 288px,#5e0099 329px,#7b0099 370px,#980099 412px,#990080 453px,#99006e 494px,#99005f 535px,#990054 576px,#99004b 617px,#990043 658px)"></div>
<div style="top:296px;height:6px;left:-4px;right:-4px;width:auto;background:linear-gradient(90deg,#002999 0px,#002399 41px,#001d99 82px,#001699 123px,#000f99 165px,#0d0899 206px,#260199 247px,#410099 288px,#5c0099 329px,#780099 370px,#940099 412px,#990083 453px,#990070 494px,#990061 535px,#990056 576px,#99004c 617px,#990045 658px)"></div>
<div style="top:301px;height:6px;left:-4px;right:-4px;width:auto;background:linear-gradient(90deg,#002899 0px,#002299 41px,#001b99 82px,#001599 123px,#000e99 165px,#0c0799 206px,#250099 247px,#3f0099 288px,#5a0099 329px,#750099 370px,#910099 412px,#990087 453px,#990073 494px,#990064 535px,#990058 576px,#99004e 617px,#990046 658px)"></div>
<div style="top:306px;height:6px;left:-4px;right:-4px;width:auto;background:linear-gradient(90deg,#002699 0px,#002099 41px,#001a99 82px,#001499 123px,#000d99 165px,#0b0699 206px,#240099 247px,#3d0099 288px,#570099 329px,#720099 370px,#8e0099 412px,#99008a 453px,#990075 494px,#990066 535px,#99005a 576px,#990050 617px,#990048 658px)"></div>
<div style="top:311px;height:6px;left:-4px;right:-4px;width:auto;background:linear-gradient(90deg,#002599 0px,#001f99 41px,#001999 82px,#001399 123px,#000c99 165px,#0b0599 206px,#230099 247px,#3c0099 288px,#550099 329px,#700099 370px,#8b0099 412px,#99008d 453px,#990078 494px,#990068 535px,#99005c 576px,#990052 617px,#990049 658px)"></div>
<div style="top:316px;height:6px;left:-4px;right:-4px;width:auto;background:linear-gradient(90deg,#002499 0px,#001e99 41px,#001899 82px,#001199 123px,#000b99 165px,#0a0599 206px,#220099 247px,#3a0099 288px,#530099 329px,#6d0099 370px,#880099 412px,#990090 453px,#99007b 494px,#99006b 535px,#99005e 576px,#990054 617px,#99004b 658px)"></div>
<div style="top:321px;height:6px;left:-4px;right:-4px;width:auto;background:linear-gradient(90deg,#002299 0px,#001d99 41px,#001799 82px,#001099 123px,#000a99 165px,#0a0499 206px,#210099 247px,#390099 288px,#510099 329px,#6b0099 370px,#850099 412px,#990093 453px,#99007d 494px,#99006d 535px,#990060 576px,#990055 617px,#99004d 658px)"></div>
<div style="top:326px;height:6px;left:-4px;right:-4px;width:auto;background:linear-gradient(90deg,#002199 0px,#001b99 41px,#001599 82px,#000f99 123px,#000999 165px,#090399 206px,#200099 247px,#370099 288px,#4f0099 329px,#680099 370px,#820099 412px,#990096 453px,#990080 494px,#99006f 535px,#990062 576px,#990057 617px,#99004e 658px)"></div>
<div style="top:331px;height:6px;left:-4px;right:-4px;width:auto;background:linear-gradient(90deg,#002099 0px,#001a99 41px,#001499 82px,#000e99 123px,#000899 165px,#080299 206px,#1f0099 247px,#360099 288px,#4e0099 329px,#660099 370px,#7f0099 412px,#990099 453px,#990083 494px,#990072 535px,#990064 576px,#990059 617px,#990050 658px)"></div>
<div style="top:336px;height:6px;left:-4px;right:-4px;width:auto;background:linear-gradient(90deg,#001f99 0px,#001999 41px,#001399 82px,#000d99 123px,#000799 165px,#080199 206px,#1e0099 247px,#350099 288px,#4c0099 329px,#640099 370px,#7c0099 412px,#960099 453px,#990085 494px,#990074 535px,#990066 576px,#99005b 617px,#990052 658px)"></div>
<div style="top:341px;height:6px;left:-4px;right:-4px;width:auto;background:linear-gradient(90deg,#001e99 0px,#001899 41px,#001299 82px,#000d99 123px,#000799 165px,#070099 206px,#1d0099 247px,#330099 288px,#4a0099 329px,#620099 370px,#7a0099 412px,#930099 453px,#990088 494px,#990076 535px,#990068 576px,#99005d 617px,#990053 658px)"></div>
<div style="top:346px;height:6px;left:-4px;right:-4px;width:auto;background:linear-gradient(90deg,#001c99 0px,#001799 41px,#001199 82px,#000c99 123px,#000699 165px,#070099 206px,#1c0099 247px,#320099 288px,#490099 329px,#600099 370px,#770099 412px,#900099 453px,#99008b 494px,#990079 535px,#99006a 576px,#99005f 617px,#990055 658px)"></div>
<div style="top:351px;height:6px;left:-4px;right:-4px;width:auto;background:linear-gradient(90deg,#001b99 0px,#001699 41px,#001099 82px,#000b99 123px,#000599 165px,#060099 206px,#1b0099 247px,#310099 288px,#470099 329px,#5e0099 370px,#750099 412px,#8d0099 453px,#99008e 494px,#99007b 535px,#99006c 576px,#990061 617px,#990057 658px)"></div>
<div style="top:356px;height:6px;left:-4px;right:-4px;width:auto;background:linear-gradient(90deg,#001a99 0px,#001599 41px,#000f99 82px,#000a99 123px,#000499 165px,#060099 206px,#1a0099 247px,#300099 288px,#450099 329px,#5c0099 370px,#730099 412px,#8a0099 453px,#990090 494px,#99007d 535px,#99006e 576px,#990062 617px,#990058 658px)"></div>
<div style="top:361px;height:6px;left:-4px;right:-4px;width:auto;background:linear-gradient(90deg,#001999 0px,#001499 41px,#000f99 82px,#000999 123px,#000399 165px,#050099 206px,#1a0099 247px,#2f0099 288px,#440099 329px,#5a0099 370px,#700099 412px,#870099 453px,#990093 494px,#990080 535px,#990071 576px,#990064 617px,#99005a 658px)"></div>
<div style="top:366px;height:6px;left:-4px;right:-4px;width:auto;background:linear-gradient(90deg,#001899 0px,#001399 41px,#000e99 82px,#000899 123px,#000399 165px,#050099 206px,#190099 247px,#2d0099 288px,#430099 329px,#580099 370px,#6e0099 412px,#850099 453px,#990096 494px,#990082 535px,#990073 576px,#990066 617px,#99005c 658px)"></div>
<div style="top:371px;height:6px;left:-4px;right:-4px;width:auto;background:linear-gradient(90deg,#001799 0px,#001299 41px,#000d99 82px,#000899 123px,#000299 165px,#040099 206px,#180099 247px,#2c0099 288px,#410099 329px,#560099 370px,#6c0099 412px,#820099 453px,#990099 494px,#990085 535px,#990075 576px,#990068 617px,#99005e 658px)"></div>
<div style="top:376px;height:6px;left:-4px;right:-4px;width:auto;background:linear-gradient(90deg,#001699 0px,#001199 41px,#000c99 82px,#000799 123px,#000199 165px,#040099 206px,#170099 247px,#2b0099 288px,#400099 329px,#550099 370px,#6a0099 412px,#800099 453px,#960099 494px,#990087 535px,#990077 576px,#99006a 617px,#99005f 658px)"></div>
<div style="top:381px;height:6px;left:-4px;right:-4px;width:auto;background:linear-gradient(90deg,#001599 0px,#001099 41px,#000b99 82px,#000699 123px,#000199 165px,#030099 206px,#170099 247px,#2a0099 288px,#3f0099 329px,#530099 370px,#680099 412px,#7e0099 453px,#940099 494px,#990089 535px,#990079 576px,#99006c 617px,#990061 658px)"></div>
<div style="top:386px;height:6px;left:-4px;right:-4px;width:auto;background:linear-gradient(90deg,#001599 0px,#001099 41px,#000a99 82px,#000599 123px,#000099 165px,#030099 206px,#160099 247px,#290099 288px,#3d0099 329px,#510099 370px,#660099 412px,#7b0099 453px,#910099 494px,#99008c 535px,#99007b 576px,#99006e 617px,#990063 658px)"></div>
<div style="top:391px;height:6px;left:-4px;right:-4px;width:auto;background:linear-gradient(90deg,#001499 0px,#000f99 41px,#000a99 82px,#000599 123px,#000099 165px,#030099 206px,#150099 247px,#280099 288px,#3c0099 329px,#500099 370px,#640099 412px,#790099 453px,#8f0099 494px,#99008e 535px,#99007d 576px,#990070 617px,#990064 658px)"></div>
<div style="top:396px;height:6px;left:-4px;right:-4px;width:auto;background:linear-gradient(90deg,#001399 0px,#000e99 41px,#000999 82px,#000499 123px,#000099 165px,#020099 206px,#150099 247px,#280099 288px,#3b0099 329px,#4e0099 370px,#630099 412px,#770099 453px,#8c0099 494px,#990091 535px,#990080 576px,#990072 617px,#990066 658px)"></div>
<div style="top:401px;height:6px;left:-4px;right:-4px;width:auto;background:linear-gradient(90deg,#001299 0px,#000d99 41px,#000899 82px,#000399 123px,#000099 165px,#020099 206px,#140099 247px,#270099 288px,#3a0099 329px,#4d0099 370px,#610099 412px,#750099 453px,#8a0099 494px,#990093 535px,#990082 576px,#990074 617px,#990068 658px)"></div>
<div style="top:406px;height:6px;left:-4px;right:-4px;width:auto;background:linear-gradient(90deg,#001199 0px,#000c99 41px,#000899 82px,#000399 123px,#000099 165px,#010099 206px,#130099 247px,#260099 288px,#380099 329px,#4c0099 370px,#5f0099 412px,#730099 453px,#870099 494px,#990096 535px,#990084 576px,#990076 617px,#99006a 658px)"></div>
<div style="top:411px;height:6px;left:-4px;right:-4px;width:auto;background:linear-gradient(90deg,#001099 0px,#000c99 41px,#000799 82px,#000299 123px,#000099 165px,#010099 206px,#130099 247px,#250099 288px,#370099 329px,#4a0099 370px,#5d0099 412px,#710099 453px,#850099 494px,#990098 535px,#990086 576px,#990077 617px,#99006b 658px)"></div>
<div style="top:416px;height:6px;left:-4px;right:-4px;width:auto;background:linear-gradient(90deg,#001099 0px,#000b99 41px,#000699 82px,#000199 123px,#000099 165px,#010099 206px,#120099 247px,#240099 288px,#360099 329px,#490099 370px,#5c0099 412px,#6f0099 453px,#830099 494px,#970099 535px,#990088 576px,#990079 617px,#99006d 658px)"></div>
<div style="top:421px;height:6px;left:-4px;right:-4px;width:auto;background:linear-gradient(90deg,#000f99 0px,#000a99 41px,#000699 82px,#000199 123px,#000099 165px,#000099 206px,#120099 247px,#230099 288px,#350099 329px,#480099 370px,#5a0099 412px,#6d0099 453px,#810099 494px,#950099 535px,#99008b 576px,#99007b 617px,#99006f 658px)"></div>
<div style="top:426px;height:6px;left:-4px;right:-4px;width:auto;background:linear-gradient(90deg,#000e99 0px,#000a99 41px,#000599 82px,#000099 123px,#000099 165px,#000099 206px,#110099 247px,#220099 288px,#340099 329px,#460099 370px,#590099 412px,#6b0099 453px,#7f0099 494px,#920099 535px,#99008d 576px,#99007d 617px,#990071 658px)"></div>
<div style="top:431px;height:6px;left:-4px;right:-4px;width:auto;background:linear-gradient(90deg,#000d99 0px,#000999 41px,#000499 82px,#000099 123px,#000099 165px,#000099 206px,#110099 247px,#220099 288px,#330099 329px,#450099 370px,#570099 412px,#6a0099 453px,#7d0099 494px,#900099 535px,#99008f 576px,#99007f 617px,#990073 658px)"></div>
<div style="top:436px;height:6px;left:-4px;right:-4px;width:auto;background:linear-gradient(90deg,#000d99 0px,#000899 41px,#000499 82px,#000099 123px,#000099 165px,#000099 206px,#100099 247px,#210099 288px,#320099 329px,#440099 370px,#560099 412px,#680099 453px,#7b0099 494px,#8e0099 535px,#990091 576px,#990081 617px,#990074 658px)"></div>
<div style="top:441px;height:6px;left:-4px;right:-4px;width:auto;background:linear-gradient(90deg,#000c99 0px,#000899 41px,#000399 82px,#000099 123px,#000099 165px,#000099 206px,#0f0099 247px,#200099 288px,#310099 329px,#430099 370px,#540099 412px,#660099 453px,#790099 494px,#8c0099 535px,#990094 576px,#990083 617px,#990076 658px)"></div>
<div style="top:446px;height:6px;left:-4px;right:-4px;width:auto;background:linear-gradient(90deg,#000b99 0px,#000799 41px,#000399 82px,#000099 123px,#000099 165px,#000099 206px,#0f0099 247px,#200099 288px,#300099 329px,#410099 370px,#530099 412px,#650099 453px,#770099 494px,#890099 535px,#990096 576px,#990085 617px,#990078 658px)"></div>
<div style="top:451px;height:6px;left:-4px;right:-4px;width:auto;background:linear-gradient(90deg,#000b99 0px,#000699 41px,#000299 82px,#000099 123px,#000099 165px,#000099 206px,#0e0099 247px,#1f0099 288px,#2f0099 329px,#400099 370px,#520099 412px,#630099 453px,#750099 494px,#870099 535px,#990098 576px,#990087 617px,#99007a 658px)"></div>
<div style="top:456px;height:6px;left:-4px;right:-4px;width:auto;background:linear-gradient(90deg,#000a99 0px,#000699 41px,#000199 82px,#000099 123px,#000099 165px,#000099 206px,#0e0099 247px,#1e0099 288px,#2f0099 329px,#3f0099 370px,#500099 412px,#620099 453px,#730099 494px,#850099 535px,#980099 576px,#990089 617px,#99007c 658px)"></div>
<div style="top:461px;height:6px;left:-4px;right:-4px;width:auto;background:linear-gradient(90deg,#000999 0px,#000599 41px,#000199 82px,#000099 123px,#000099 165px,#000099 206px,#0e0099 247px,#1d0099 288px,#2e0099 329px,#3e0099 370px,#4f0099 412px,#600099 453px,#720099 494px,#830099 535px,#950099 576px,#99008b 617px,#99007d 658px)"></div>
<div style="top:466px;height:6px;left:-4px;right:-4px;width:auto;background:linear-gradient(90deg,#000999 0px,#000599 41px,#000099 82px,#000099 123px,#000099 165px,#000099 206px,#0d0099 247px,#1d0099 288px,#2d0099 329px,#3d0099 370px,#4e0099 412px,#5f0099 453px,#700099 494px,#810099 535px,#930099 576px,#99008d 617px,#99007f 658px)"></div>
<div style="top:471px;height:6px;left:-4px;right:-4px;width:auto;background:linear-gradient(90deg,#000899 0px,#000499 41px,#000099 82px,#000099 123px,#000099 165px,#000099 206px,#0d0099 247px,#1c0099 288px,#2c0099 329px,#3c0099 370px,#4d0099 412px,#5d0099 453px,#6e0099 494px,#800099 535px,#910099 576px,#990090 617px,#990081 658px)"></div>
<div style="top:476px;height:6px;left:-4px;right:-4px;width:auto;background:linear-gradient(90deg,#000899 0px,#000499 41px,#000099 82px,#000099 123px,#000099 165px,#000099 206px,#0c0099 247px,#1c0099 288px,#2b0099 329px,#3b0099 370px,#4b0099 412px,#5c0099 453px,#6d0099 494px,#7e0099 535px,#8f0099 576px,#990092 617px,#990083 658px)"></div>
<div style="top:481px;height:6px;left:-4px;right:-4px;width:auto;background:linear-gradient(90deg,#000799 0px,#000399 41px,#000099 82px,#000099 123px,#000099 165px,#000099 206px,#0c0099 247px,#1b0099 288px,#2a0099 329px,#3a0099 370px,#4a0099 412px,#5a0099 453px,#6b0099 494px,#7c0099 535px,#8d0099 576px,#990094 617px,#990085 658px)"></div>
</div>
</div>
<div class="cl" style="left:1393.2px;top:249.6px;width:354.4px;height:338.2px;clip-path:polygon(353.4px 33.9px,1.0px 1.0px,55.5px 337.2px)">
<div class="bw">
<div style="top:-4px;height:5px;left:-4px;right:-4px;width:auto;background:linear-gradient(90deg,#00ff00 0px,#2bff00 23px,#68ff00 45px,#adff00 68px,#fcff00 91px,#ffbd00 113px,#ff9000 136px,#ff7000 159px,#ff5800 181px,#ff4600 204px,#ff3700 227px,#ff2b00 249px,#ff2100 272px,#ff1900 294px,#ff1200 317px,#ff0c00 340px,#ff0600 362px)"></div>
<div style="top:0px;height:5px;left:-4px;right:-4px;width:auto;background:linear-gradient(90deg,#00ff03 0px,#2aff00 23px,#67ff00 45px,#adff00 68px,#fdff00 91px,#ffbc00 113px,#ff8e00 136px,#ff6e00 159px,#ff5700 181px,#ff4500 204px,#ff3600 227px,#ff2a00 249px,#ff2000 272px,#ff1800 294px,#ff1100 317px,#ff0b00 340px,#ff0500 362px)"></div>
<div style="top:4px;height:5px;left:-4px;right:-4px;width:auto;background:linear-gradient(90deg,#00ff0c 0px,#29ff08 23px,#67ff03 45px,#adff00 68px,#ffff00 91px,#ffba00 113px,#ff8d00 136px,#ff6d00 159px,#ff5500 181px,#ff4300 204px,#ff3500 227px,#ff2900 249px,#ff1f00 272px,#ff1700 294px,#ff1000 317px,#ff0a00 340px,#ff0500 362px)"></div>
<div style="top:8px;height:5px;left:-4px;right:-4px;width:auto;background:linear-gradient(90deg,#00ff14 0px,#28ff11 23px,#66ff0d 45px,#aeff08 68px,#fffe03 91px,#ffb800 113px,#ff8b00 136px,#ff6c00 159px,#ff5400 181px,#ff4200 204px,#ff3400 227px,#ff2800 249px,#ff1e00 272px,#ff1600 294px,#ff0f00 317px,#ff0900 340px,#ff0400 362px)"></div>
<div style="top:12px;height:5px;left:-4px;right:-4px;width:auto;background:linear-gradient(90deg,#00ff1d 0px,#27ff1a 23px,#66ff17 45px,#aeff13 68px,#fffc0e 91px,#ffb706 113px,#ff8a01 136px,#ff6a00 159px,#ff5300 181px,#ff4100 204px,#ff3200 227px,#ff2700 249px,#ff1d00 272px,#ff1500 294px,#ff0e00 317px,#ff0800 340px,#ff0300 362px)"></div>
<div style="top:16px;height:5px;left:-4px;right:-4px;width:auto;background:linear-gradient(90deg,#00ff27 0px,#26ff24 23px,#65ff21 45px,#aeff1e 68px,#fffb1a 91px,#ffb510 113px,#ff8809 136px,#ff6904 159px,#ff5101 181px,#ff4000 204px,#ff3100 227px,#ff2600 249px,#ff1c00 272px,#ff1400 294px,#ff0d00 317px,#ff0700 340px,#ff0200 362px)"></div>
<div style="top:20px;height:5px;left:-4px;right:-4px;width:auto;background:linear-gradient(90deg,#00ff30 0px,#24ff2e 23px,#65ff2c 45px,#afff29 68px,#fff926 91px,#ffb419 113px,#ff8710 136px,#ff670b 159px,#ff5006 181px,#ff3e03 204px,#ff3000 227px,#ff2500 249px,#ff1b00 272px,#ff1300 294px,#ff0c00 317px,#ff0700 340px,#ff0100 362px)"></div>
<div style="top:24px;height:5px;left:-4px;right:-4px;width:auto;background:linear-gradient(90deg,#00ff39 0px,#23ff38 23px,#64ff37 45px,#afff35 68px,#fff832 91px,#ffb222 113px,#ff8518 136px,#ff6611 159px,#ff4f0c 181px,#ff3d08 204px,#ff2f05 227px,#ff2402 249px,#ff1a00 272px,#ff1200 294px,#ff0c00 317px,#ff0600 340px,#ff0100 362px)"></div>
<div style="top:28px;height:5px;left:-4px;right:-4px;width:auto;background:linear-gradient(90deg,#00ff43 0px,#22ff43 23px,#64ff42 45px,#afff41 68px,#fff63e 91px,#ffb02b 113px,#ff8320 136px,#ff6417 159px,#ff4d11 181px,#ff3c0d 204px,#ff2e09 227px,#ff2206 249px,#ff1904 272px,#ff1102 294px,#ff0b00 317px,#ff0500 340px,#ff0000 362px)"></div>
<div style="top:32px;height:5px;left:-4px;right:-4px;width:auto;background:linear-gradient(90deg,#00ff4d 0px,#20ff4d 23px,#63ff4d 45px,#b0ff4d 68px,#fff54a 91px,#ffaf35 113px,#ff8227 136px,#ff631e 159px,#ff4c17 181px,#ff3a12 204px,#ff2d0e 227px,#ff210a 249px,#ff1807 272px,#ff1005 294px,#ff0a03 317px,#ff0401 340px,#ff0000 362px)"></div>
<div style="top:36px;height:5px;left:-4px;right:-4px;width:auto;background:linear-gradient(90deg,#00ff57 0px,#1fff58 23px,#62ff59 45px,#b0ff5a 68px,#fff357 91px,#ffad3f 113px,#ff802f 136px,#ff6125 159px,#ff4a1d 181px,#ff3917 204px,#ff2b12 227px,#ff200e 249px,#ff170b 272px,#ff0f08 294px,#ff0906 317px,#ff0304 340px,#ff0002 362px)"></div>
<div style="top:40px;height:5px;left:-4px;right:-4px;width:auto;background:linear-gradient(90deg,#00ff62 0px,#1eff63 23px,#62ff65 45px,#b1ff67 68px,#fff163 91px,#ffab48 113px,#ff7f37 136px,#ff602b 159px,#ff4922 181px,#ff381c 204px,#ff2a16 227px,#ff1f12 249px,#ff160f 272px,#ff0e0c 294px,#ff0809 317px,#ff0207 340px,#ff0005 362px)"></div>
<div style="top:44px;height:5px;left:-4px;right:-4px;width:auto;background:linear-gradient(90deg,#00ff6c 0px,#1cff6f 23px,#61ff71 45px,#b1ff74 68px,#fff070 91px,#ffa952 113px,#ff7d3f 136px,#ff5e32 159px,#ff4828 181px,#ff3621 204px,#ff291b 227px,#ff1e16 249px,#ff1512 272px,#ff0d0f 294px,#ff070c 317px,#ff010a 340px,#ff0008 362px)"></div>
<div style="top:48px;height:5px;left:-4px;right:-4px;width:auto;background:linear-gradient(90deg,#00ff77 0px,#1bff7a 23px,#60ff7e 45px,#b2ff82 68px,#ffee7e 91px,#ffa85c 113px,#ff7b47 136px,#ff5d39 159px,#ff462e 181px,#ff3526 204px,#ff2820 227px,#ff1d1a 249px,#ff1416 272px,#ff0c13 294px,#ff0610 317px,#ff000d 340px,#ff000b 362px)"></div>
<div style="top:52px;height:5px;left:-4px;right:-4px;width:auto;background:linear-gradient(90deg,#00ff82 0px,#19ff86 23px,#60ff8b 45px,#b2ff90 68px,#ffec8b 91px,#ffa666 113px,#ff794f 136px,#ff5b3f 159px,#ff4534 181px,#ff342b 204px,#ff2624 227px,#ff1c1e 249px,#ff131a 272px,#ff0b16 294px,#ff0513 317px,#ff0010 340px,#ff000d 362px)"></div>
<div style="top:56px;height:5px;left:-4px;right:-4px;width:auto;background:linear-gradient(90deg,#00ff8e 0px,#18ff93 23px,#5fff98 45px,#b2ff9e 68px,#ffea99 91px,#ffa471 113px,#ff7858 136px,#ff5946 159px,#ff433a 181px,#ff3230 204px,#ff2529 227px,#ff1b23 249px,#ff121e 272px,#ff0a19 294px,#ff0416 317px,#ff0013 340px,#ff0010 362px)"></div>
<div style="top:60px;height:5px;left:-4px;right:-4px;width:auto;background:linear-gradient(90deg,#00ff9a 0px,#16ff9f 23px,#5effa6 45px,#b3ffad 68px,#ffe9a6 91px,#ffa27b 113px,#ff7660 136px,#ff584d 159px,#ff4240 181px,#ff3135 204px,#ff242d 227px,#ff1927 249px,#ff1121 272px,#ff091d 294px,#ff0319 317px,#ff0016 340px,#ff0013 362px)"></div>
<div style="top:64px;height:5px;left:-4px;right:-4px;width:auto;background:linear-gradient(90deg,#00ffa6 0px,#15ffac 23px,#5effb4 45px,#b3ffbd 68px,#ffe7b5 91px,#ffa086 113px,#ff7468 136px,#ff5654 159px,#ff4046 181px,#ff303b 204px,#ff2332 227px,#ff182b 249px,#ff1025 272px,#ff0820 294px,#ff021c 317px,#ff0019 340px,#ff0016 362px)"></div>
<div style="top:68px;height:5px;left:-4px;right:-4px;width:auto;background:linear-gradient(90deg,#00ffb2 0px,#13ffb9 23px,#5dffc2 45px,#b4ffcd 68px,#ffe5c3 91px,#ff9e90 113px,#ff7271 136px,#ff555b 159px,#ff3f4c 181px,#ff2e40 204px,#ff2137 227px,#ff172f 249px,#ff0e29 272px,#ff0724 294px,#ff011f 317px,#ff001c 340px,#ff0018 362px)"></div>
<div style="top:72px;height:5px;left:-4px;right:-4px;width:auto;background:linear-gradient(90deg,#00ffbe 0px,#11ffc7 23px,#5cffd1 45px,#b5ffdd 68px,#ffe3d2 91px,#ff9c9b 113px,#ff7179 136px,#ff5362 159px,#ff3d52 181px,#ff2d45 204px,#ff203b 227px,#ff1633 249px,#ff0d2d 272px,#ff0627 294px,#ff0023 317px,#ff001f 340px,#ff001b 362px)"></div>
<div style="top:76px;height:5px;left:-4px;right:-4px;width:auto;background:linear-gradient(90deg,#00ffcb 0px,#10ffd5 23px,#5bffe0 45px,#b5ffee 68px,#ffe1e0 91px,#ff9aa6 113px,#ff6f82 136px,#ff516a 159px,#ff3c58 181px,#ff2c4b 204px,#ff1f40 227px,#ff1538 249px,#ff0c31 272px,#ff052b 294px,#ff0026 317px,#ff0022 340px,#ff001e 362px)"></div>
<div style="top:80px;height:5px;left:-4px;right:-4px;width:auto;background:linear-gradient(90deg,#00ffd8 0px,#0effe3 23px,#5bfff0 45px,#b5ffff 68px,#ffdff0 91px,#ff98b1 113px,#ff6d8b 136px,#ff5071 159px,#ff3a5e 181px,#ff2a50 204px,#ff1e45 227px,#ff133c 249px,#ff0b35 272px,#ff042e 294px,#ff0029 317px,#ff0025 340px,#ff0021 362px)"></div>
<div style="top:84px;height:5px;left:-4px;right:-4px;width:auto;background:linear-gradient(90deg,#00ffe6 0px,#0cfff2 23px,#59feff 45px,#aaeeff 68px,#ffddff 91px,#ff96bd 113px,#ff6b94 136px,#ff4e78 159px,#ff3964 181px,#ff2955 204px,#ff1c4a 227px,#ff1240 249px,#ff0a38 272px,#ff0332 294px,#ff002d 317px,#ff0028 340px,#ff0024 362px)"></div>
<div style="top:88px;height:5px;left:-4px;right:-4px;width:auto;background:linear-gradient(90deg,#00fff4 0px,#0afdff 23px,#53eeff 45px,#a0dfff 68px,#f0ceff 91px,#ff94c8 113px,#ff699d 136px,#ff4c80 159px,#ff376b 181px,#ff275b 204px,#ff1b4e 227px,#ff1145 249px,#ff093c 272px,#ff0236 294px,#ff0030 317px,#ff002b 340px,#ff0027 362px)"></div>
<div style="top:92px;height:5px;left:-4px;right:-4px;width:auto;background:linear-gradient(90deg,#00fcff 0px,#08eeff 23px,#4de0ff 45px,#96d1ff 68px,#e3c1ff 91px,#ff92d4 113px,#ff67a6 136px,#ff4a87 159px,#ff3671 181px,#ff2660 204px,#ff1a53 227px,#ff1049 249px,#ff0840 272px,#ff0139 294px,#ff0033 317px,#ff002e 340px,#ff0029 362px)"></div>
<div style="top:96px;height:5px;left:-4px;right:-4px;width:auto;background:linear-gradient(90deg,#00eeff 0px,#05e1ff 23px,#48d3ff 45px,#8ec4ff 68px,#d7b5ff 91px,#ff90df 113px,#ff65af 136px,#ff498f 159px,#ff3477 181px,#ff2466 204px,#ff1858 227px,#ff0f4d 249px,#ff0744 272px,#ff003d 294px,#ff0036 317px,#ff0031 340px,#ff002c 362px)"></div>
<div style="top:100px;height:5px;left:-4px;right:-4px;width:auto;background:linear-gradient(90deg,#00e2ff 0px,#03d5ff 23px,#43c7ff 45px,#86b9ff 68px,#cbaaff 91px,#ff8eeb 113px,#ff63b8 136px,#ff4796 159px,#ff327e 181px,#ff236b 204px,#ff175d 227px,#ff0d52 249px,#ff0648 272px,#ff0040 294px,#ff003a 317px,#ff0034 340px,#ff002f 362px)"></div>
<div style="top:104px;height:5px;left:-4px;right:-4px;width:auto;background:linear-gradient(90deg,#00d6ff 0px,#02caff 23px,#3fbcff 45px,#7faeff 68px,#c1a0ff 91px,#ff8cf7 113px,#ff61c2 136px,#ff459e 159px,#ff3184 181px,#ff2271 204px,#ff1662 227px,#ff0c56 249px,#ff044c 272px,#ff0044 294px,#ff003d 317px,#ff0037 340px,#ff0032 362px)"></div>
<div style="top:108px;height:5px;left:-4px;right:-4px;width:auto;background:linear-gradient(90deg,#00ccff 0px,#00bfff 23px,#3bb2ff 45px,#78a4ff 68px,#b896ff 91px,#fa87ff 113px,#ff5fcb 136px,#ff43a6 159px,#ff2f8b 181px,#ff2077 204px,#ff1467 227px,#ff0b5b 249px,#ff0350 272px,#ff0048 294px,#ff0040 317px,#ff003a 340px,#ff0035 362px)"></div>
<div style="top:112px;height:5px;left:-4px;right:-4px;width:auto;background:linear-gradient(90deg,#00c2ff 0px,#00b6ff 23px,#37a9ff 45px,#729bff 68px,#af8dff 91px,#ef7fff 113px,#ff5dd5 136px,#ff41ad 159px,#ff2e91 181px,#ff1f7c 204px,#ff136c 227px,#ff0a5f 249px,#ff0254 272px,#ff004b 294px,#ff0044 317px,#ff003d 340px,#ff0038 362px)"></div>
<div style="top:116px;height:5px;left:-4px;right:-4px;width:auto;background:linear-gradient(90deg,#00b9ff 0px,#00adff 23px,#33a0ff 45px,#6c93ff 68px,#a785ff 91px,#e477ff 113px,#ff5bdf 136px,#ff40b5 159px,#ff2c98 181px,#ff1d82 204px,#ff1271 227px,#ff0863 249px,#ff0158 272px,#ff004f 294px,#ff0047 317px,#ff0041 340px,#ff003b 362px)"></div>
<div style="top:120px;height:5px;left:-4px;right:-4px;width:auto;background:linear-gradient(90deg,#00b0ff 0px,#00a4ff 23px,#3098ff 45px,#678bff 68px,#a07eff 91px,#db70ff 113px,#ff59e8 136px,#ff3ebd 159px,#ff2a9f 181px,#ff1c88 204px,#ff1076 227px,#ff0768 249px,#ff005c 272px,#ff0053 294px,#ff004b 317px,#ff0044 340px,#ff003e 362px)"></div>
<div style="top:124px;height:5px;left:-4px;right:-4px;width:auto;background:linear-gradient(90deg,#00a8ff 0px,#009cff 23px,#2d90ff 45px,#6284ff 68px,#9977ff 91px,#d16aff 113px,#ff57f2 136px,#ff3cc5 159px,#ff29a6 181px,#ff1a8e 204px,#ff0f7b 227px,#ff066d 249px,#ff0061 272px,#ff0057 294px,#ff004e 317px,#ff0047 340px,#ff0041 362px)"></div>
<div style="top:128px;height:5px;left:-4px;right:-4px;width:auto;background:linear-gradient(90deg,#00a0ff 0px,#0095ff 23px,#2a89ff 45px,#5d7dff 68px,#9270ff 91px,#c963ff 113px,#ff55fc 136px,#ff3ace 159px,#ff27ac 181px,#ff1994 204px,#ff0d80 227px,#ff0571 249px,#ff0065 272px,#ff005a 294px,#ff0052 317px,#ff004a 340px,#ff0044 362px)"></div>
<div style="top:132px;height:5px;left:-4px;right:-4px;width:auto;background:linear-gradient(90deg,#0099ff 0px,#008eff 23px,#2883ff 45px,#5977ff 68px,#8c6aff 91px,#c15eff 113px,#f851ff 136px,#ff38d6 159px,#ff25b3 181px,#ff1799 204px,#ff0c86 227px,#ff0376 249px,#ff0069 272px,#ff005e 294px,#ff0055 317px,#ff004d 340px,#ff0047 362px)"></div>
<div style="top:136px;height:5px;left:-4px;right:-4px;width:auto;background:linear-gradient(90deg,#0093ff 0px,#0088ff 23px,#257cff 45px,#5571ff 68px,#8665ff 91px,#b958ff 113px,#ee4bff 136px,#ff36de 159px,#ff23ba 181px,#ff159f 204px,#ff0b8b 227px,#ff027a 249px,#ff006d 272px,#ff0062 294px,#ff0058 317px,#ff0050 340px,#ff004a 362px)"></div>
<div style="top:140px;height:5px;left:-4px;right:-4px;width:auto;background:linear-gradient(90deg,#008cff 0px,#0081ff 23px,#2376ff 45px,#516bff 68px,#815fff 91px,#b253ff 113px,#e547ff 136px,#ff34e6 159px,#ff22c1 181px,#ff14a5 204px,#ff0990 227px,#ff017f 249px,#ff0071 272px,#ff0066 294px,#ff005c 317px,#ff0054 340px,#ff004c 362px)"></div>
<div style="top:144px;height:5px;left:-4px;right:-4px;width:auto;background:linear-gradient(90deg,#0086ff 0px,#007cff 23px,#2071ff 45px,#4d66ff 68px,#7c5aff 91px,#ac4eff 113px,#dd42ff 136px,#ff32ef 159px,#ff20c8 181px,#ff12ab 204px,#ff0895 227px,#ff0084 249px,#ff0075 272px,#ff0069 294px,#ff005f 317px,#ff0057 340px,#ff004f 362px)"></div>
<div style="top:148px;height:5px;left:-4px;right:-4px;width:auto;background:linear-gradient(90deg,#0081ff 0px,#0076ff 23px,#1e6cff 45px,#4a61ff 68px,#7756ff 91px,#a64aff 113px,#d53eff 136px,#ff30f7 159px,#ff1ecf 181px,#ff11b2 204px,#ff069b 227px,#ff0088 249px,#ff007a 272px,#ff006d 294px,#ff0063 317px,#ff005a 340px,#ff0052 362px)"></div>
<div style="top:152px;height:5px;left:-4px;right:-4px;width:auto;background:linear-gradient(90deg,#007bff 0px,#0071ff 23px,#1c67ff 45px,#475cff 68px,#7351ff 91px,#a046ff 113px,#ce3aff 136px,#fe2eff 159px,#ff1cd6 181px,#ff0fb8 204px,#ff05a0 227px,#ff008d 249px,#ff007e 272px,#ff0071 294px,#ff0067 317px,#ff005d 340px,#ff0056 362px)"></div>
<div style="top:156px;height:5px;left:-4px;right:-4px;width:auto;background:linear-gradient(90deg,#0076ff 0px,#006cff 23px,#1a62ff 45px,#4458ff 68px,#6e4dff 91px,#9a42ff 113px,#c736ff 136px,#f62bff 159px,#ff1bde 181px,#ff0dbe 204px,#ff03a5 227px,#ff0092 249px,#ff0082 272px,#ff0075 294px,#ff006a 317px,#ff0061 340px,#ff0059 362px)"></div>
<div style="top:160px;height:5px;left:-4px;right:-4px;width:auto;background:linear-gradient(90deg,#0071ff 0px,#0068ff 23px,#195eff 45px,#4153ff 68px,#6a49ff 91px,#953eff 113px,#c133ff 136px,#ee27ff 159px,#ff19e5 181px,#ff0cc4 204px,#ff02ab 227px,#ff0097 249px,#ff0086 272px,#ff0079 294px,#ff006e 317px,#ff0064 340px,#ff005c 362px)"></div>
<div style="top:164px;height:5px;left:-4px;right:-4px;width:auto;background:linear-gradient(90deg,#006dff 0px,#0063ff 23px,#1759ff 45px,#3e4fff 68px,#6645ff 91px,#903aff 113px,#ba2fff 136px,#e624ff 159px,#ff17ec 181px,#ff0aca 204px,#ff00b0 227px,#ff009c 249px,#ff008b 272px,#ff007d 294px,#ff0071 317px,#ff0067 340px,#ff005f 362px)"></div>
<div style="top:168px;height:5px;left:-4px;right:-4px;width:auto;background:linear-gradient(90deg,#0068ff 0px,#005fff 23px,#1555ff 45px,#3c4bff 68px,#6341ff 91px,#8b37ff 113px,#b42cff 136px,#df21ff 159px,#ff15f4 181px,#ff09d1 204px,#ff00b6 227px,#ff00a0 249px,#ff008f 272px,#ff0081 294px,#ff0075 317px,#ff006b 340px,#ff0062 362px)"></div>
<div style="top:172px;height:5px;left:-4px;right:-4px;width:auto;background:linear-gradient(90deg,#0064ff 0px,#005bff 23px,#1451ff 45px,#3948ff 68px,#5f3eff 91px,#8734ff 113px,#af29ff 136px,#d81fff 159px,#ff13fb 181px,#ff07d7 204px,#ff00bb 227px,#ff00a5 249px,#ff0093 272px,#ff0085 294px,#ff0078 317px,#ff006e 340px,#ff0065 362px)"></div>
<div style="top:176px;height:5px;left:-4px;right:-4px;width:auto;background:linear-gradient(90deg,#0060ff 0px,#0057ff 23px,#124eff 45px,#3744ff 68px,#5c3bff 91px,#8231ff 113px,#aa26ff 136px,#d21cff 159px,#fb11ff 181px,#ff05dd 204px,#ff00c1 227px,#ff00aa 249px,#ff0098 272px,#ff0089 294px,#ff007c 317px,#ff0071 340px,#ff0068 362px)"></div>
<div style="top:180px;height:5px;left:-4px;right:-4px;width:auto;background:linear-gradient(90deg,#005cff 0px,#0053ff 23px,#114aff 45px,#3441ff 68px,#5937ff 91px,#7e2eff 113px,#a524ff 136px,#cc19ff 159px,#f40fff 181px,#ff04e4 204px,#ff00c6 227px,#ff00af 249px,#ff009c 272px,#ff008d 294px,#ff0080 317px,#ff0075 340px,#ff006b 362px)"></div>
<div style="top:184px;height:5px;left:-4px;right:-4px;width:auto;background:linear-gradient(90deg,#0059ff 0px,#0050ff 23px,#0f47ff 45px,#323eff 68px,#5634ff 91px,#7a2bff 113px,#a021ff 136px,#c617ff 159px,#ed0dff 181px,#ff02ea 204px,#ff00cc 227px,#ff00b4 249px,#ff00a1 272px,#ff0091 294px,#ff0083 317px,#ff0078 340px,#ff006e 362px)"></div>
<div style="top:188px;height:5px;left:-4px;right:-4px;width:auto;background:linear-gradient(90deg,#0055ff 0px,#004cff 23px,#0e44ff 45px,#303bff 68px,#5332ff 91px,#7728ff 113px,#9b1eff 136px,#c015ff 159px,#e70bff 181px,#ff00f1 204px,#ff00d2 227px,#ff00b9 249px,#ff00a5 272px,#ff0095 294px,#ff0087 317px,#ff007b 340px,#ff0071 362px)"></div>
<div style="top:192px;height:5px;left:-4px;right:-4px;width:auto;background:linear-gradient(90deg,#0052ff 0px,#0049ff 23px,#0d41ff 45px,#2e38ff 68px,#502fff 91px,#7326ff 113px,#971cff 136px,#bb12ff 159px,#e009ff 181px,#ff00f8 204px,#ff00d7 227px,#ff00be 249px,#ff00aa 272px,#ff0099 294px,#ff008b 317px,#ff007f 340px,#ff0074 362px)"></div>
<div style="top:196px;height:5px;left:-4px;right:-4px;width:auto;background:linear-gradient(90deg,#004eff 0px,#0046ff 23px,#0c3eff 45px,#2c35ff 68px,#4e2cff 91px,#7023ff 113px,#921aff 136px,#b610ff 159px,#da07ff 181px,#ff00fe 204px,#ff00dd 227px,#ff00c3 249px,#ff00ae 272px,#ff009d 294px,#ff008e 317px,#ff0082 340px,#ff0078 362px)"></div>
<div style="top:200px;height:5px;left:-4px;right:-4px;width:auto;background:linear-gradient(90deg,#004bff 0px,#0043ff 23px,#0b3bff 45px,#2a32ff 68px,#4b2aff 91px,#6c21ff 113px,#8e18ff 136px,#b10eff 159px,#d505ff 181px,#f900ff 204px,#ff00e3 227px,#ff00c8 249px,#ff00b3 272px,#ff00a1 294px,#ff0092 317px,#ff0086 340px,#ff007b 362px)"></div>
<div style="top:204px;height:5px;left:-4px;right:-4px;width:auto;background:linear-gradient(90deg,#0048ff 0px,#0040ff 23px,#0a38ff 45px,#2930ff 68px,#4927ff 91px,#691eff 113px,#8a16ff 136px,#ad0cff 159px,#cf03ff 181px,#f300ff 204px,#ff00e9 227px,#ff00cd 249px,#ff00b7 272px,#ff00a5 294px,#ff0096 317px,#ff0089 340px,#ff007e 362px)"></div>
<div style="top:208px;height:5px;left:-4px;right:-4px;width:auto;background:linear-gradient(90deg,#0046ff 0px,#003eff 23px,#0836ff 45px,#272dff 68px,#4625ff 91px,#661cff 113px,#8714ff 136px,#a80bff 159px,#ca01ff 181px,#ed00ff 204px,#ff00ef 227px,#ff00d3 249px,#ff00bc 272px,#ff00a9 294px,#ff009a 317px,#ff008c 340px,#ff0081 362px)"></div>
<div style="top:212px;height:5px;left:-4px;right:-4px;width:auto;background:linear-gradient(90deg,#0043ff 0px,#003bff 23px,#0733ff 45px,#252bff 68px,#4423ff 91px,#631aff 113px,#8312ff 136px,#a409ff 159px,#c500ff 181px,#e700ff 204px,#ff00f5 227px,#ff00d8 249px,#ff00c1 272px,#ff00ad 294px,#ff009e 317px,#ff0090 340px,#ff0084 362px)"></div>
<div style="top:216px;height:5px;left:-4px;right:-4px;width:auto;background:linear-gradient(90deg,#0040ff 0px,#0038ff 23px,#0731ff 45px,#2429ff 68px,#4220ff 91px,#6118ff 113px,#8010ff 136px,#a007ff 159px,#c000ff 181px,#e200ff 204px,#ff00fb 227px,#ff00dd 249px,#ff00c5 272px,#ff00b2 294px,#ff00a1 317px,#ff0093 340px,#ff0088 362px)"></div>
<div style="top:220px;height:5px;left:-4px;right:-4px;width:auto;background:linear-gradient(90deg,#003eff 0px,#0036ff 23px,#062eff 45px,#2226ff 68px,#401eff 91px,#5e16ff 113px,#7c0eff 136px,#9c05ff 159px,#bc00ff 181px,#dc00ff 204px,#fd00ff 227px,#ff00e2 249px,#ff00ca 272px,#ff00b6 294px,#ff00a5 317px,#ff0097 340px,#ff008b 362px)"></div>
<div style="top:224px;height:5px;left:-4px;right:-4px;width:auto;background:linear-gradient(90deg,#003bff 0px,#0034ff 23px,#052cff 45px,#2124ff 68px,#3e1cff 91px,#5b14ff 113px,#790cff 136px,#9804ff 159px,#b700ff 181px,#d700ff 204px,#f800ff 227px,#ff00e8 249px,#ff00cf 272px,#ff00ba 294px,#ff00a9 317px,#ff009a 340px,#ff008e 362px)"></div>
<div style="top:228px;height:5px;left:-4px;right:-4px;width:auto;background:linear-gradient(90deg,#0039ff 0px,#0031ff 23px,#042aff 45px,#2022ff 68px,#3c1bff 91px,#5913ff 113px,#760bff 136px,#9402ff 159px,#b300ff 181px,#d200ff 204px,#f200ff 227px,#ff00ed 249px,#ff00d3 272px,#ff00be 294px,#ff00ad 317px,#ff009e 340px,#ff0091 362px)"></div>
<div style="top:232px;height:5px;left:-4px;right:-4px;width:auto;background:linear-gradient(90deg,#0036ff 0px,#002fff 23px,#0328ff 45px,#1e20ff 68px,#3a19ff 91px,#5611ff 113px,#7309ff 136px,#9101ff 159px,#af00ff 181px,#cd00ff 204px,#ed00ff 227px,#ff00f2 249px,#ff00d8 272px,#ff00c3 294px,#ff00b1 317px,#ff00a2 340px,#ff0095 362px)"></div>
<div style="top:236px;height:5px;left:-4px;right:-4px;width:auto;background:linear-gradient(90deg,#0034ff 0px,#002dff 23px,#0226ff 45px,#1d1eff 68px,#3817ff 91px,#540fff 113px,#7007ff 136px,#8d00ff 159px,#ab00ff 181px,#c900ff 204px,#e700ff 227px,#ff00f8 249px,#ff00dd 272px,#ff00c7 294px,#ff00b5 317px,#ff00a5 340px,#ff0098 362px)"></div>
<div style="top:240px;height:5px;left:-4px;right:-4px;width:auto;background:linear-gradient(90deg,#0032ff 0px,#002bff 23px,#0124ff 45px,#1c1dff 68px,#3715ff 91px,#520eff 113px,#6e06ff 136px,#8a00ff 159px,#a700ff 181px,#c400ff 204px,#e200ff 227px,#ff00fd 249px,#ff00e2 272px,#ff00cb 294px,#ff00b9 317px,#ff00a9 340px,#ff009b 362px)"></div>
<div style="top:244px;height:5px;left:-4px;right:-4px;width:auto;background:linear-gradient(90deg,#0030ff 0px,#0029ff 23px,#0122ff 45px,#1b1bff 68px,#3514ff 91px,#500cff 113px,#6b05ff 136px,#8700ff 159px,#a300ff 181px,#c000ff 204px,#de00ff 227px,#fc00ff 249px,#ff00e6 272px,#ff00d0 294px,#ff00bc 317px,#ff00ac 340px,#ff009e 362px)"></div>
<div style="top:248px;height:5px;left:-4px;right:-4px;width:auto;background:linear-gradient(90deg,#002eff 0px,#0027ff 23px,#0020ff 45px,#1919ff 68px,#3312ff 91px,#4e0bff 113px,#6903ff 136px,#8400ff 159px,#a000ff 181px,#bc00ff 204px,#d900ff 227px,#f600ff 249px,#ff00eb 272px,#ff00d4 294px,#ff00c0 317px,#ff00b0 340px,#ff00a2 362px)"></div>
<div style="top:252px;height:5px;left:-4px;right:-4px;width:auto;background:linear-gradient(90deg,#002cff 0px,#0025ff 23px,#001eff 45px,#1817ff 68px,#3210ff 91px,#4c09ff 113px,#6602ff 136px,#8100ff 159px,#9c00ff 181px,#b800ff 204px,#d400ff 227px,#f100ff 249px,#ff00f0 272px,#ff00d8 294px,#ff00c4 317px,#ff00b4 340px,#ff00a5 362px)"></div>
<div style="top:256px;height:5px;left:-4px;right:-4px;width:auto;background:linear-gradient(90deg,#002aff 0px,#0023ff 23px,#001dff 45px,#1716ff 68px,#300fff 91px,#4a08ff 113px,#6400ff 136px,#7e00ff 159px,#9900ff 181px,#b400ff 204px,#d000ff 227px,#ec00ff 249px,#ff00f5 272px,#ff00dd 294px,#ff00c8 317px,#ff00b7 340px,#ff00a8 362px)"></div>
<div style="top:260px;height:5px;left:-4px;right:-4px;width:auto;background:linear-gradient(90deg,#0028ff 0px,#0022ff 23px,#001bff 45px,#1614ff 68px,#2f0dff 91px,#4806ff 113px,#6100ff 136px,#7b00ff 159px,#9600ff 181px,#b100ff 204px,#cc00ff 227px,#e800ff 249px,#ff00fa 272px,#ff00e1 294px,#ff00cc 317px,#ff00bb 340px,#ff00ac 362px)"></div>
<div style="top:264px;height:5px;left:-4px;right:-4px;width:auto;background:linear-gradient(90deg,#0026ff 0px,#0020ff 23px,#0019ff 45px,#1513ff 68px,#2d0cff 91px,#4605ff 113px,#5f00ff 136px,#7900ff 159px,#9300ff 181px,#ad00ff 204px,#c800ff 227px,#e300ff 249px,#ff00ff 272px,#ff00e6 294px,#ff00d0 317px,#ff00be 340px,#ff00af 362px)"></div>
<div style="top:268px;height:5px;left:-4px;right:-4px;width:auto;background:linear-gradient(90deg,#0025ff 0px,#001eff 23px,#0018ff 45px,#1411ff 68px,#2c0bff 91px,#4404ff 113px,#5d00ff 136px,#7600ff 159px,#9000ff 181px,#a900ff 204px,#c400ff 227px,#df00ff 249px,#fa00ff 272px,#ff00ea 294px,#ff00d4 317px,#ff00c2 340px,#ff00b3 362px)"></div>
<div style="top:272px;height:5px;left:-4px;right:-4px;width:auto;background:linear-gradient(90deg,#0023ff 0px,#001dff 23px,#0016ff 45px,#1310ff 68px,#2b09ff 91px,#4303ff 113px,#5b00ff 136px,#7300ff 159px,#8d00ff 181px,#a600ff 204px,#c000ff 227px,#da00ff 249px,#f500ff 272px,#ff00ef 294px,#ff00d9 317px,#ff00c6 340px,#ff00b6 362px)"></div>
<div style="top:276px;height:5px;left:-4px;right:-4px;width:auto;background:linear-gradient(90deg,#0021ff 0px,#001bff 23px,#0015ff 45px,#120eff 68px,#2908ff 91px,#4101ff 113px,#5900ff 136px,#7100ff 159px,#8a00ff 181px,#a300ff 204px,#bc00ff 227px,#d600ff 249px,#f100ff 272px,#ff00f3 294px,#ff00dd 317px,#ff00ca 340px,#ff00b9 362px)"></div>
<div style="top:280px;height:5px;left:-4px;right:-4px;width:auto;background:linear-gradient(90deg,#0020ff 0px,#001aff 23px,#0014ff 45px,#110dff 68px,#2807ff 91px,#3f00ff 113px,#5700ff 136px,#6f00ff 159px,#8700ff 181px,#a000ff 204px,#b900ff 227px,#d200ff 249px,#ec00ff 272px,#ff00f8 294px,#ff00e1 317px,#ff00cd 340px,#ff00bd 362px)"></div>
<div style="top:284px;height:5px;left:-4px;right:-4px;width:auto;background:linear-gradient(90deg,#001eff 0px,#0018ff 23px,#0012ff 45px,#100cff 68px,#2705ff 91px,#3e00ff 113px,#5500ff 136px,#6c00ff 159px,#8400ff 181px,#9d00ff 204px,#b500ff 227px,#ce00ff 249px,#e800ff 272px,#ff00fc 294px,#ff00e5 317px,#ff00d1 340px,#ff00c0 362px)"></div>
<div style="top:288px;height:5px;left:-4px;right:-4px;width:auto;background:linear-gradient(90deg,#001dff 0px,#0017ff 23px,#0011ff 45px,#0f0bff 68px,#2604ff 91px,#3c00ff 113px,#5300ff 136px,#6a00ff 159px,#8200ff 181px,#9a00ff 204px,#b200ff 227px,#cb00ff 249px,#e400ff 272px,#fd00ff 294px,#ff00e9 317px,#ff00d5 340px,#ff00c4 362px)"></div>
<div style="top:292px;height:5px;left:-4px;right:-4px;width:auto;background:linear-gradient(90deg,#001bff 0px,#0015ff 23px,#000fff 45px,#0f09ff 68px,#2403ff 91px,#3b00ff 113px,#5100ff 136px,#6800ff 159px,#7f00ff 181px,#9700ff 204px,#af00ff 227px,#c700ff 249px,#e000ff 272px,#f900ff 294px,#ff00ed 317px,#ff00d9 340px,#ff00c7 362px)"></div>
<div style="top:296px;height:5px;left:-4px;right:-4px;width:auto;background:linear-gradient(90deg,#001aff 0px,#0014ff 23px,#000eff 45px,#0e08ff 68px,#2302ff 91px,#3900ff 113px,#4f00ff 136px,#6600ff 159px,#7d00ff 181px,#9400ff 204px,#ac00ff 227px,#c300ff 249px,#dc00ff 272px,#f400ff 294px,#ff00f1 317px,#ff00dc 340px,#ff00cb 362px)"></div>
<div style="top:300px;height:5px;left:-4px;right:-4px;width:auto;background:linear-gradient(90deg,#0019ff 0px,#0013ff 23px,#000dff 45px,#0d07ff 68px,#2201ff 91px,#3800ff 113px,#4e00ff 136px,#6400ff 159px,#7a00ff 181px,#9100ff 204px,#a800ff 227px,#c000ff 249px,#d800ff 272px,#f000ff 294px,#ff00f6 317px,#ff00e0 340px,#ff00ce 362px)"></div>
<div style="top:304px;height:5px;left:-4px;right:-4px;width:auto;background:linear-gradient(90deg,#0017ff 0px,#0012ff 23px,#000cff 45px,#0c06ff 68px,#2100ff 91px,#3600ff 113px,#4c00ff 136px,#6200ff 159px,#7800ff 181px,#8f00ff 204px,#a500ff 227px,#bd00ff 249px,#d400ff 272px,#ec00ff 294px,#ff00fa 317px,#ff00e4 340px,#ff00d2 362px)"></div>
<div style="top:308px;height:5px;left:-4px;right:-4px;width:auto;background:linear-gradient(90deg,#0016ff 0px,#0010ff 23px,#000bff 45px,#0c05ff 68px,#2000ff 91px,#3500ff 113px,#4a00ff 136px,#6000ff 159px,#7600ff 181px,#8c00ff 204px,#a300ff 227px,#b900ff 249px,#d100ff 272px,#e800ff 294px,#ff00fe 317px,#ff00e8 340px,#ff00d5 362px)"></div>
<div style="top:312px;height:5px;left:-4px;right:-4px;width:auto;background:linear-gradient(90deg,#0015ff 0px,#000fff 23px,#0009ff 45px,#0b04ff 68px,#1f00ff 91px,#3400ff 113px,#4900ff 136px,#5e00ff 159px,#7400ff 181px,#8a00ff 204px,#a000ff 227px,#b600ff 249px,#cd00ff 272px,#e400ff 294px,#fc00ff 317px,#ff00ec 340px,#ff00d9 362px)"></div>
<div style="top:316px;height:5px;left:-4px;right:-4px;width:auto;background:linear-gradient(90deg,#0013ff 0px,#000eff 23px,#0008ff 45px,#0a03ff 68px,#1e00ff 91px,#3300ff 113px,#4700ff 136px,#5c00ff 159px,#7200ff 181px,#8700ff 204px,#9d00ff 227px,#b300ff 249px,#ca00ff 272px,#e000ff 294px,#f800ff 317px,#ff00f0 340px,#ff00dc 362px)"></div>
<div style="top:320px;height:5px;left:-4px;right:-4px;width:auto;background:linear-gradient(90deg,#0012ff 0px,#000dff 23px,#0007ff 45px,#0902ff 68px,#1d00ff 91px,#3100ff 113px,#4600ff 136px,#5a00ff 159px,#6f00ff 181px,#8500ff 204px,#9a00ff 227px,#b000ff 249px,#c600ff 272px,#dd00ff 294px,#f400ff 317px,#ff00f4 340px,#ff00e0 362px)"></div>
<div style="top:324px;height:5px;left:-4px;right:-4px;width:auto;background:linear-gradient(90deg,#0011ff 0px,#000cff 23px,#0006ff 45px,#0901ff 68px,#1c00ff 91px,#3000ff 113px,#4400ff 136px,#5900ff 159px,#6d00ff 181px,#8200ff 204px,#9800ff 227px,#ad00ff 249px,#c300ff 272px,#d900ff 294px,#f000ff 317px,#ff00f8 340px,#ff00e4 362px)"></div>
<div style="top:328px;height:5px;left:-4px;right:-4px;width:auto;background:linear-gradient(90deg,#0010ff 0px,#000bff 23px,#0005ff 45px,#0800ff 68px,#1b00ff 91px,#2f00ff 113px,#4300ff 136px,#5700ff 159px,#6b00ff 181px,#8000ff 204px,#9500ff 227px,#aa00ff 249px,#c000ff 272px,#d600ff 294px,#ec00ff 317px,#ff00fc 340px,#ff00e7 362px)"></div>
<div style="top:332px;height:5px;left:-4px;right:-4px;width:auto;background:linear-gradient(90deg,#000fff 0px,#000aff 23px,#0004ff 45px,#0700ff 68px,#1b00ff 91px,#2e00ff 113px,#4200ff 136px,#5500ff 159px,#6a00ff 181px,#7e00ff 204px,#9300ff 227px,#a800ff 249px,#bd00ff 272px,#d200ff 294px,#e800ff 317px,#fe00ff 340px,#ff00eb 362px)"></div>
<div style="top:336px;height:5px;left:-4px;right:-4px;width:auto;background:linear-gradient(90deg,#000eff 0px,#0009ff 23px,#0003ff 45px,#0700ff 68px,#1a00ff 91px,#2d00ff 113px,#4000ff 136px,#5400ff 159px,#6800ff 181px,#7c00ff 204px,#9000ff 227px,#a500ff 249px,#ba00ff 272px,#cf00ff 294px,#e500ff 317px,#fb00ff 340px,#ff00ee 362px)"></div>
<div style="top:340px;height:5px;left:-4px;right:-4px;width:auto;background:linear-gradient(90deg,#000dff 0px,#0007ff 23px,#0002ff 45px,#0600ff 68px,#1900ff 91px,#2c00ff 113px,#3f00ff 136px,#5200ff 159px,#6600ff 181px,#7a00ff 204px,#8e00ff 227px,#a200ff 249px,#b700ff 272px,#cc00ff 294px,#e100ff 317px,#f700ff 340px,#ff00f2 362px)"></div>
</div>
</div>
<div class="a" style="left:606px;top:574px;width:601px;height:166px;background:#000"></div>
<div class="a" style="left:627.4px;top:581px;width:101px;height:135px;border:1px solid #e8e8e8;background:linear-gradient(#c3bb9f 0,#c3bb9f 67px,#c2c2a2 67px)"></div>
<div class="a" style="left:627.4px;top:720px;width:101px;text-align:center;font-size:12.5px;color:#f0f0f0">20%</div>
<div class="a" style="left:744.7px;top:581px;width:101px;height:135px;border:1px solid #e8e8e8;background:linear-gradient(#c4bb82 0,#c4bb82 67px,#c2c185 67px)"></div>
<div class="a" style="left:744.7px;top:720px;width:101px;text-align:center;font-size:12.5px;color:#f0f0f0">40%</div>
<div class="a" style="left:861.5px;top:581px;width:101px;height:135px;border:1px solid #e8e8e8;background:linear-gradient(#c5bb68 0,#c5bb68 67px,#c2c06b 67px)"></div>
<div class="a" style="left:861.5px;top:720px;width:101px;text-align:center;font-size:12.5px;color:#f0f0f0">60%</div>
<div class="a" style="left:979.4px;top:581px;width:101px;height:135px;border:1px solid #e8e8e8;background:linear-gradient(#c6b948 0,#c6b948 67px,#c0c04b 67px)"></div>
<div class="a" style="left:979.4px;top:720px;width:101px;text-align:center;font-size:12.5px;color:#f0f0f0">80%</div>
<div class="a" style="left:1097.3px;top:581px;width:101px;height:135px;border:1px solid #e8e8e8;background:linear-gradient(#c8bb00 0,#c8bb00 67px,#c4c21a 67px)"></div>
<div class="a" style="left:1097.3px;top:720px;width:101px;text-align:center;font-size:12.5px;color:#f0f0f0">100%</div>
<div class="a" style="left:608px;top:603px;width:14px;height:14px;font-size:12px;color:#f0f0f0;transform:rotate(-90deg);transform-origin:0 0;top:628px">Actual</div>
<div class="a" style="left:608px;top:704px;font-size:12px;color:#f0f0f0;transform:rotate(-90deg);transform-origin:0 0">Target</div>
<svg class="a" style="left:0;top:0" width="1920" height="1146" font-family="Liberation Sans, sans-serif"><defs><linearGradient id="g0R"><stop offset="0" stop-color="#d85858"/><stop offset="0.15" stop-color="#c81010"/><stop offset="0.7" stop-color="#c81010"/><stop offset="1" stop-color="#820a0a"/></linearGradient>
<linearGradient id="g0G"><stop offset="0" stop-color="#58d358"/><stop offset="0.15" stop-color="#10c010"/><stop offset="0.7" stop-color="#10c010"/><stop offset="1" stop-color="#0a7d0a"/></linearGradient>
<linearGradient id="g0B"><stop offset="0" stop-color="#5a5ad8"/><stop offset="0.15" stop-color="#1414c8"/><stop offset="0.7" stop-color="#1414c8"/><stop offset="1" stop-color="#0d0d82"/></linearGradient>
<linearGradient id="g0C"><stop offset="0" stop-color="#58d3d3"/><stop offset="0.15" stop-color="#10c0c0"/><stop offset="0.7" stop-color="#10c0c0"/><stop offset="1" stop-color="#0a7d7d"/></linearGradient>
<linearGradient id="g0M"><stop offset="0" stop-color="#d358d3"/><stop offset="0.15" stop-color="#c010c0"/><stop offset="0.7" stop-color="#c010c0"/><stop offset="1" stop-color="#7d0a7d"/></linearGradient>
<linearGradient id="g0Y"><stop offset="0" stop-color="#d8d85d"/><stop offset="0.15" stop-color="#c8c818"/><stop offset="0.7" stop-color="#c8c818"/><stop offset="1" stop-color="#828210"/></linearGradient>
<linearGradient id="g1R"><stop offset="0" stop-color="#da7979"/><stop offset="0.15" stop-color="#ca3f3f"/><stop offset="0.7" stop-color="#ca3f3f"/><stop offset="1" stop-color="#832929"/></linearGradient>
<linearGradient id="g1G"><stop offset="0" stop-color="#79d279"/><stop offset="0.15" stop-color="#3fbf3f"/><stop offset="0.7" stop-color="#3fbf3f"/><stop offset="1" stop-color="#297c29"/></linearGradient>
<linearGradient id="g1B"><stop offset="0" stop-color="#7d7dda"/><stop offset="0.15" stop-color="#4545ca"/><stop offset="0.7" stop-color="#4545ca"/><stop offset="1" stop-color="#2d2d83"/></linearGradient>
<linearGradient id="g1C"><stop offset="0" stop-color="#7ed5d5"/><stop offset="0.15" stop-color="#46c3c3"/><stop offset="0.7" stop-color="#46c3c3"/><stop offset="1" stop-color="#2e7f7f"/></linearGradient>
<linearGradient id="g1M"><stop offset="0" stop-color="#d57dd6"/><stop offset="0.15" stop-color="#c345c5"/><stop offset="0.7" stop-color="#c345c5"/><stop offset="1" stop-color="#7f2d80"/></linearGradient>
<linearGradient id="g1Y"><stop offset="0" stop-color="#d7d780"/><stop offset="0.15" stop-color="#c6c64a"/><stop offset="0.7" stop-color="#c6c64a"/><stop offset="1" stop-color="#818130"/></linearGradient>
<linearGradient id="g2R"><stop offset="0" stop-color="#db9090"/><stop offset="0.15" stop-color="#cb6060"/><stop offset="0.7" stop-color="#cb6060"/><stop offset="1" stop-color="#843e3e"/></linearGradient>
<linearGradient id="g2G"><stop offset="0" stop-color="#90d290"/><stop offset="0.15" stop-color="#60bf60"/><stop offset="0.7" stop-color="#60bf60"/><stop offset="1" stop-color="#3e7c3e"/></linearGradient>
<linearGradient id="g2B"><stop offset="0" stop-color="#9595db"/><stop offset="0.15" stop-color="#6767cb"/><stop offset="0.7" stop-color="#6767cb"/><stop offset="1" stop-color="#434384"/></linearGradient>
<linearGradient id="g2C"><stop offset="0" stop-color="#98d6d6"/><stop offset="0.15" stop-color="#6cc5c5"/><stop offset="0.7" stop-color="#6cc5c5"/><stop offset="1" stop-color="#468080"/></linearGradient>
<linearGradient id="g2M"><stop offset="0" stop-color="#d696d8"/><stop offset="0.15" stop-color="#c569c8"/><stop offset="0.7" stop-color="#c569c8"/><stop offset="1" stop-color="#804482"/></linearGradient>
<linearGradient id="g2Y"><stop offset="0" stop-color="#d6d698"/><stop offset="0.15" stop-color="#c5c56c"/><stop offset="0.7" stop-color="#c5c56c"/><stop offset="1" stop-color="#808046"/></linearGradient>
<linearGradient id="g3R"><stop offset="0" stop-color="#dba3a3"/><stop offset="0.15" stop-color="#cc7c7c"/><stop offset="0.7" stop-color="#cc7c7c"/><stop offset="1" stop-color="#855151"/></linearGradient>
<linearGradient id="g3G"><stop offset="0" stop-color="#a3d2a3"/><stop offset="0.15" stop-color="#7cbe7c"/><stop offset="0.7" stop-color="#7cbe7c"/><stop offset="1" stop-color="#517c51"/></linearGradient>
<linearGradient id="g3B"><stop offset="0" stop-color="#aaaadb"/><stop offset="0.15" stop-color="#8585cc"/><stop offset="0.7" stop-color="#8585cc"/><stop offset="1" stop-color="#565685"/></linearGradient>
<linearGradient id="g3C"><stop offset="0" stop-color="#aed7d7"/><stop offset="0.15" stop-color="#8cc6c6"/><stop offset="0.7" stop-color="#8cc6c6"/><stop offset="1" stop-color="#5b8181"/></linearGradient>
<linearGradient id="g3M"><stop offset="0" stop-color="#d7acda"/><stop offset="0.15" stop-color="#c688ca"/><stop offset="0.7" stop-color="#c688ca"/><stop offset="1" stop-color="#815883"/></linearGradient>
<linearGradient id="g3Y"><stop offset="0" stop-color="#d6d6ad"/><stop offset="0.15" stop-color="#c4c48a"/><stop offset="0.7" stop-color="#c4c48a"/><stop offset="1" stop-color="#7f7f5a"/></linearGradient>
<linearGradient id="g4R"><stop offset="0" stop-color="#dcb6b6"/><stop offset="0.15" stop-color="#cd9696"/><stop offset="0.7" stop-color="#cd9696"/><stop offset="1" stop-color="#856262"/></linearGradient>
<linearGradient id="g4G"><stop offset="0" stop-color="#b6d2b6"/><stop offset="0.15" stop-color="#96be96"/><stop offset="0.7" stop-color="#96be96"/><stop offset="1" stop-color="#627c62"/></linearGradient>
<linearGradient id="g4B"><stop offset="0" stop-color="#bcbcdc"/><stop offset="0.15" stop-color="#a0a0cd"/><stop offset="0.7" stop-color="#a0a0cd"/><stop offset="1" stop-color="#686885"/></linearGradient>
<linearGradient id="g4C"><stop offset="0" stop-color="#c4d8d8"/><stop offset="0.15" stop-color="#aac8c8"/><stop offset="0.7" stop-color="#aac8c8"/><stop offset="1" stop-color="#6e8282"/></linearGradient>
<linearGradient id="g4M"><stop offset="0" stop-color="#d8c0dc"/><stop offset="0.15" stop-color="#c8a5cd"/><stop offset="0.7" stop-color="#c8a5cd"/><stop offset="1" stop-color="#826b85"/></linearGradient>
<linearGradient id="g4Y"><stop offset="0" stop-color="#d5d5c0"/><stop offset="0.15" stop-color="#c3c3a5"/><stop offset="0.7" stop-color="#c3c3a5"/><stop offset="1" stop-color="#7f7f6b"/></linearGradient>
<linearGradient id="gW"><stop offset="0" stop-color="#fff"/><stop offset="0.6" stop-color="#f0f0f0"/><stop offset="1" stop-color="#999"/></linearGradient>
<linearGradient id="gBar" x1="0" y1="0" x2="0" y2="1"><stop offset="0" stop-color="#d6d650"/><stop offset="0.2" stop-color="#c2c200"/><stop offset="0.55" stop-color="#bebe00"/><stop offset="1" stop-color="#585800"/></linearGradient></defs>
<rect x="269" y="316" width="316.5" height="392" fill="#232323"/>
<line x1="311.2" y1="316" x2="311.2" y2="708" stroke="#8e8e8e" stroke-width="1.5"/>
<line x1="353.4" y1="316" x2="353.4" y2="708" stroke="#8e8e8e" stroke-width="1.5"/>
<line x1="395.6" y1="316" x2="395.6" y2="708" stroke="#8e8e8e" stroke-width="1.5"/>
<line x1="437.8" y1="316" x2="437.8" y2="708" stroke="#8e8e8e" stroke-width="1.5"/>
<line x1="480.0" y1="316" x2="480.0" y2="708" stroke="#8e8e8e" stroke-width="1.5"/>
<line x1="522.2" y1="316" x2="522.2" y2="708" stroke="#8e8e8e" stroke-width="1.5"/>
<line x1="564.4" y1="316" x2="564.4" y2="708" stroke="#8e8e8e" stroke-width="1.5"/>
<path d="M585.5 316V708M269 316H585.5" stroke="#8e8e8e" stroke-width="1.5" fill="none"/>
<path d="M269 315V714M263 708H585.5" stroke="#a8a8a8" stroke-width="2" fill="none"/>
<line x1="263" y1="316.0" x2="269" y2="316.0" stroke="#a8a8a8" stroke-width="2"/>
<line x1="263" y1="381.3" x2="269" y2="381.3" stroke="#a8a8a8" stroke-width="2"/>
<line x1="263" y1="446.7" x2="269" y2="446.7" stroke="#a8a8a8" stroke-width="2"/>
<line x1="263" y1="512.0" x2="269" y2="512.0" stroke="#a8a8a8" stroke-width="2"/>
<line x1="263" y1="577.3" x2="269" y2="577.3" stroke="#a8a8a8" stroke-width="2"/>
<line x1="263" y1="642.7" x2="269" y2="642.7" stroke="#a8a8a8" stroke-width="2"/>
<line x1="263" y1="708.0" x2="269" y2="708.0" stroke="#a8a8a8" stroke-width="2"/>
<line x1="269.0" y1="708" x2="269.0" y2="713" stroke="#a8a8a8" stroke-width="1.5"/>
<text x="269.0" y="729" text-anchor="middle" font-size="14.5" fill="#e4e4e4">0</text>
<line x1="311.2" y1="708" x2="311.2" y2="713" stroke="#a8a8a8" stroke-width="1.5"/>
<text x="311.2" y="729" text-anchor="middle" font-size="14.5" fill="#e4e4e4">2</text>
<line x1="353.4" y1="708" x2="353.4" y2="713" stroke="#a8a8a8" stroke-width="1.5"/>
<text x="353.4" y="729" text-anchor="middle" font-size="14.5" fill="#e4e4e4">4</text>
<line x1="395.6" y1="708" x2="395.6" y2="713" stroke="#a8a8a8" stroke-width="1.5"/>
<text x="395.6" y="729" text-anchor="middle" font-size="14.5" fill="#e4e4e4">6</text>
<line x1="437.8" y1="708" x2="437.8" y2="713" stroke="#a8a8a8" stroke-width="1.5"/>
<text x="437.8" y="729" text-anchor="middle" font-size="14.5" fill="#e4e4e4">8</text>
<line x1="480.0" y1="708" x2="480.0" y2="713" stroke="#a8a8a8" stroke-width="1.5"/>
<text x="480.0" y="729" text-anchor="middle" font-size="14.5" fill="#e4e4e4">10</text>
<line x1="522.2" y1="708" x2="522.2" y2="713" stroke="#a8a8a8" stroke-width="1.5"/>
<text x="522.2" y="729" text-anchor="middle" font-size="14.5" fill="#e4e4e4">12</text>
<line x1="564.4" y1="708" x2="564.4" y2="713" stroke="#a8a8a8" stroke-width="1.5"/>
<text x="564.4" y="729" text-anchor="middle" font-size="14.5" fill="#e4e4e4">14</text>
<text x="409.5" y="310.5" text-anchor="middle" font-size="14.5" fill="#e4e4e4">DeltaE 2000</text>
<text x="268.5" y="355.5" text-anchor="end" font-size="14.5" fill="#e4e4e4">100%</text>
<rect x="270" y="322.0" width="34.6" height="6" fill="#000" opacity="0.9"/>
<rect x="270" y="322.8" width="33.1" height="4.4" fill="url(#g0R)"/>
<rect x="270" y="328.9" width="30.6" height="6" fill="#000" opacity="0.9"/>
<rect x="270" y="329.7" width="29.1" height="4.4" fill="url(#g0G)"/>
<rect x="270" y="335.8" width="39.5" height="6" fill="#000" opacity="0.9"/>
<rect x="270" y="336.6" width="38.0" height="4.4" fill="url(#g0B)"/>
<rect x="270" y="342.7" width="29.3" height="6" fill="#000" opacity="0.9"/>
<rect x="270" y="343.5" width="27.8" height="4.4" fill="url(#g0C)"/>
<rect x="270" y="349.6" width="7.2" height="6" fill="#000" opacity="0.9"/>
<rect x="270" y="350.4" width="5.7" height="4.4" fill="url(#g0M)"/>
<rect x="270" y="356.5" width="56.3" height="6" fill="#000" opacity="0.9"/>
<rect x="270" y="357.3" width="54.8" height="4.4" fill="url(#g0Y)"/>
<text x="268.5" y="420.8" text-anchor="end" font-size="14.5" fill="#e4e4e4">80%</text>
<rect x="270" y="387.3" width="33.3" height="6" fill="#000" opacity="0.9"/>
<rect x="270" y="388.1" width="31.8" height="4.4" fill="url(#g1R)"/>
<rect x="270" y="394.2" width="27.4" height="6" fill="#000" opacity="0.9"/>
<rect x="270" y="395.0" width="25.9" height="4.4" fill="url(#g1G)"/>
<rect x="270" y="401.1" width="32.5" height="6" fill="#000" opacity="0.9"/>
<rect x="270" y="401.9" width="31.0" height="4.4" fill="url(#g1B)"/>
<rect x="270" y="408.0" width="31.4" height="6" fill="#000" opacity="0.9"/>
<rect x="270" y="408.8" width="29.9" height="4.4" fill="url(#g1C)"/>
<rect x="270" y="414.9" width="5.9" height="6" fill="#000" opacity="0.9"/>
<rect x="270" y="415.7" width="4.4" height="4.4" fill="url(#g1M)"/>
<rect x="270" y="421.8" width="54.6" height="6" fill="#000" opacity="0.9"/>
<rect x="270" y="422.6" width="53.1" height="4.4" fill="url(#g1Y)"/>
<text x="268.5" y="486.2" text-anchor="end" font-size="14.5" fill="#e4e4e4">60%</text>
<rect x="270" y="452.7" width="23.2" height="6" fill="#000" opacity="0.9"/>
<rect x="270" y="453.5" width="21.7" height="4.4" fill="url(#g2R)"/>
<rect x="270" y="459.6" width="27.4" height="6" fill="#000" opacity="0.9"/>
<rect x="270" y="460.4" width="25.9" height="4.4" fill="url(#g2G)"/>
<rect x="270" y="466.5" width="39.5" height="6" fill="#000" opacity="0.9"/>
<rect x="270" y="467.3" width="38.0" height="4.4" fill="url(#g2B)"/>
<rect x="270" y="473.4" width="32.1" height="6" fill="#000" opacity="0.9"/>
<rect x="270" y="474.2" width="30.6" height="4.4" fill="url(#g2C)"/>
<rect x="270" y="480.3" width="24.1" height="6" fill="#000" opacity="0.9"/>
<rect x="270" y="481.1" width="22.6" height="4.4" fill="url(#g2M)"/>
<rect x="270" y="487.2" width="54.6" height="6" fill="#000" opacity="0.9"/>
<rect x="270" y="488.0" width="53.1" height="4.4" fill="url(#g2Y)"/>
<text x="268.5" y="551.5" text-anchor="end" font-size="14.5" fill="#e4e4e4">40%</text>
<rect x="270" y="518.0" width="37.3" height="6" fill="#000" opacity="0.9"/>
<rect x="270" y="518.8" width="35.8" height="4.4" fill="url(#g3R)"/>
<rect x="270" y="524.9" width="26.8" height="6" fill="#000" opacity="0.9"/>
<rect x="270" y="525.7" width="25.3" height="4.4" fill="url(#g3G)"/>
<rect x="270" y="531.8" width="29.3" height="6" fill="#000" opacity="0.9"/>
<rect x="270" y="532.6" width="27.8" height="4.4" fill="url(#g3B)"/>
<rect x="270" y="538.7" width="37.3" height="6" fill="#000" opacity="0.9"/>
<rect x="270" y="539.5" width="35.8" height="4.4" fill="url(#g3C)"/>
<rect x="270" y="545.6" width="24.1" height="6" fill="#000" opacity="0.9"/>
<rect x="270" y="546.4" width="22.6" height="4.4" fill="url(#g3M)"/>
<rect x="270" y="552.5" width="56.3" height="6" fill="#000" opacity="0.9"/>
<rect x="270" y="553.3" width="54.8" height="4.4" fill="url(#g3Y)"/>
<text x="268.5" y="616.8" text-anchor="end" font-size="14.5" fill="#e4e4e4">20%</text>
<rect x="270" y="583.3" width="40.7" height="6" fill="#000" opacity="0.9"/>
<rect x="270" y="584.1" width="39.2" height="4.4" fill="url(#g4R)"/>
<rect x="270" y="590.2" width="30.6" height="6" fill="#000" opacity="0.9"/>
<rect x="270" y="591.0" width="29.1" height="4.4" fill="url(#g4G)"/>
<rect x="270" y="597.1" width="32.5" height="6" fill="#000" opacity="0.9"/>
<rect x="270" y="597.9" width="31.0" height="4.4" fill="url(#g4B)"/>
<rect x="270" y="604.0" width="47.5" height="6" fill="#000" opacity="0.9"/>
<rect x="270" y="604.8" width="46.0" height="4.4" fill="url(#g4C)"/>
<rect x="270" y="610.9" width="41.6" height="6" fill="#000" opacity="0.9"/>
<rect x="270" y="611.7" width="40.1" height="4.4" fill="url(#g4M)"/>
<rect x="270" y="617.8" width="70.9" height="6" fill="#000" opacity="0.9"/>
<rect x="270" y="618.6" width="69.4" height="4.4" fill="url(#g4Y)"/>
<text x="268.5" y="682.2" text-anchor="end" font-size="14.5" fill="#e4e4e4">100</text>
<rect x="270" y="689.2" width="91.8" height="6" fill="#000"/>
<rect x="270" y="690.0" width="90.3" height="4.4" fill="url(#gW)"/>
<rect x="639.7" y="261.2" width="147.29999999999995" height="286.8" fill="#232323"/>
<line x1="633.7" y1="261.2" x2="787.0" y2="261.2" stroke="#8e8e8e" stroke-width="1.5"/>
<text x="634.2" y="267.2" text-anchor="end" font-size="15" fill="#e4e4e4">15</text>
<line x1="633.7" y1="309.3" x2="787.0" y2="309.3" stroke="#8e8e8e" stroke-width="1.5"/>
<text x="634.2" y="315.3" text-anchor="end" font-size="15" fill="#e4e4e4">10</text>
<line x1="633.7" y1="357.4" x2="787.0" y2="357.4" stroke="#8e8e8e" stroke-width="1.5"/>
<text x="634.2" y="363.4" text-anchor="end" font-size="15" fill="#e4e4e4">5</text>
<line x1="633.7" y1="405.5" x2="787.0" y2="405.5" stroke="#8e8e8e" stroke-width="1.5"/>
<text x="634.2" y="411.5" text-anchor="end" font-size="15" fill="#e4e4e4">0</text>
<line x1="633.7" y1="453.0" x2="787.0" y2="453.0" stroke="#8e8e8e" stroke-width="1.5"/>
<text x="634.2" y="459.0" text-anchor="end" font-size="15" fill="#e4e4e4">-5</text>
<line x1="633.7" y1="500.5" x2="787.0" y2="500.5" stroke="#8e8e8e" stroke-width="1.5"/>
<text x="634.2" y="506.5" text-anchor="end" font-size="15" fill="#e4e4e4">-10</text>
<line x1="633.7" y1="548.0" x2="787.0" y2="548.0" stroke="#8e8e8e" stroke-width="1.5"/>
<text x="634.2" y="554.0" text-anchor="end" font-size="15" fill="#e4e4e4">-15</text>
<path d="M639.7 261.2V554M787.0 261.2V554" stroke="#8e8e8e" stroke-width="1.5" fill="none"/>
<text x="699.7" y="255.7" text-anchor="middle" font-size="14.5" fill="#e4e4e4">Delta L</text>
<text x="712.7" y="563.8" text-anchor="middle" font-size="14.5" fill="#e4e4e4">100%</text>
<rect x="655.3" y="405.5" width="116" height="12.5" fill="url(#gBar)" stroke="#000" stroke-width="1.8"/>
<rect x="839.8" y="261.2" width="147.29999999999995" height="286.8" fill="#232323"/>
<line x1="833.8" y1="261.2" x2="987.0999999999999" y2="261.2" stroke="#8e8e8e" stroke-width="1.5"/>
<text x="834.3" y="267.2" text-anchor="end" font-size="15" fill="#e4e4e4">15</text>
<line x1="833.8" y1="309.3" x2="987.0999999999999" y2="309.3" stroke="#8e8e8e" stroke-width="1.5"/>
<text x="834.3" y="315.3" text-anchor="end" font-size="15" fill="#e4e4e4">10</text>
<line x1="833.8" y1="357.4" x2="987.0999999999999" y2="357.4" stroke="#8e8e8e" stroke-width="1.5"/>
<text x="834.3" y="363.4" text-anchor="end" font-size="15" fill="#e4e4e4">5</text>
<line x1="833.8" y1="405.5" x2="987.0999999999999" y2="405.5" stroke="#8e8e8e" stroke-width="1.5"/>
<text x="834.3" y="411.5" text-anchor="end" font-size="15" fill="#e4e4e4">0</text>
<line x1="833.8" y1="453.0" x2="987.0999999999999" y2="453.0" stroke="#8e8e8e" stroke-width="1.5"/>
<text x="834.3" y="459.0" text-anchor="end" font-size="15" fill="#e4e4e4">-5</text>
<line x1="833.8" y1="500.5" x2="987.0999999999999" y2="500.5" stroke="#8e8e8e" stroke-width="1.5"/>
<text x="834.3" y="506.5" text-anchor="end" font-size="15" fill="#e4e4e4">-10</text>
<line x1="833.8" y1="548.0" x2="987.0999999999999" y2="548.0" stroke="#8e8e8e" stroke-width="1.5"/>
<text x="834.3" y="554.0" text-anchor="end" font-size="15" fill="#e4e4e4">-15</text>
<path d="M839.8 261.2V554M987.0999999999999 261.2V554" stroke="#8e8e8e" stroke-width="1.5" fill="none"/>
<text x="899.8" y="255.7" text-anchor="middle" font-size="14.5" fill="#e4e4e4">Delta C</text>
<text x="912.8" y="563.8" text-anchor="middle" font-size="14.5" fill="#e4e4e4">100%</text>
<rect x="855.4" y="380.5" width="116" height="25.0" fill="url(#gBar)" stroke="#000" stroke-width="1.8"/>
<rect x="1040" y="261.2" width="147.29999999999995" height="286.8" fill="#232323"/>
<line x1="1034" y1="261.2" x2="1187.3" y2="261.2" stroke="#8e8e8e" stroke-width="1.5"/>
<text x="1034.5" y="267.2" text-anchor="end" font-size="15" fill="#e4e4e4">15</text>
<line x1="1034" y1="309.3" x2="1187.3" y2="309.3" stroke="#8e8e8e" stroke-width="1.5"/>
<text x="1034.5" y="315.3" text-anchor="end" font-size="15" fill="#e4e4e4">10</text>
<line x1="1034" y1="357.4" x2="1187.3" y2="357.4" stroke="#8e8e8e" stroke-width="1.5"/>
<text x="1034.5" y="363.4" text-anchor="end" font-size="15" fill="#e4e4e4">5</text>
<line x1="1034" y1="405.5" x2="1187.3" y2="405.5" stroke="#8e8e8e" stroke-width="1.5"/>
<text x="1034.5" y="411.5" text-anchor="end" font-size="15" fill="#e4e4e4">0</text>
<line x1="1034" y1="453.0" x2="1187.3" y2="453.0" stroke="#8e8e8e" stroke-width="1.5"/>
<text x="1034.5" y="459.0" text-anchor="end" font-size="15" fill="#e4e4e4">-5</text>
<line x1="1034" y1="500.5" x2="1187.3" y2="500.5" stroke="#8e8e8e" stroke-width="1.5"/>
<text x="1034.5" y="506.5" text-anchor="end" font-size="15" fill="#e4e4e4">-10</text>
<line x1="1034" y1="548.0" x2="1187.3" y2="548.0" stroke="#8e8e8e" stroke-width="1.5"/>
<text x="1034.5" y="554.0" text-anchor="end" font-size="15" fill="#e4e4e4">-15</text>
<path d="M1040 261.2V554M1187.3 261.2V554" stroke="#8e8e8e" stroke-width="1.5" fill="none"/>
<text x="1100" y="255.7" text-anchor="middle" font-size="14.5" fill="#e4e4e4">Delta H</text>
<text x="1113" y="563.8" text-anchor="middle" font-size="14.5" fill="#e4e4e4">100%</text>
<rect x="1055.6" y="405.5" width="116" height="43.5" fill="url(#gBar)" stroke="#000" stroke-width="1.8"/>
<rect x="1258.6" y="217.6" width="650.4000000000001" height="500.4" fill="none" stroke="#8e8e8e" stroke-width="1.5"/>
<path d="M1258.6 217.6V723.0M1253.6 718.0H1909.0" stroke="#a8a8a8" stroke-width="2" fill="none"/>
<text x="1566" y="213" text-anchor="middle" font-size="14.5" fill="#e4e4e4">CIE 1976 u'v'</text>
<line x1="1253.6" y1="718.0" x2="1258.6" y2="718.0" stroke="#a8a8a8" stroke-width="1.5"/>
<text x="1253.6" y="723.5" text-anchor="end" font-size="14.5" fill="#e4e4e4">0</text>
<line x1="1259.0" y1="718.0" x2="1259.0" y2="723.0" stroke="#a8a8a8" stroke-width="1.5"/>
<text x="1259.0" y="739.0" text-anchor="middle" font-size="14.5" fill="#e4e4e4">0</text>
<line x1="1253.6" y1="676.5" x2="1258.6" y2="676.5" stroke="#a8a8a8" stroke-width="1.5"/>
<text x="1253.6" y="682.0" text-anchor="end" font-size="14.5" fill="#e4e4e4">0.05</text>
<line x1="1313.1" y1="718.0" x2="1313.1" y2="723.0" stroke="#a8a8a8" stroke-width="1.5"/>
<text x="1313.1" y="739.0" text-anchor="middle" font-size="14.5" fill="#e4e4e4">0.05</text>
<line x1="1253.6" y1="634.9" x2="1258.6" y2="634.9" stroke="#a8a8a8" stroke-width="1.5"/>
<text x="1253.6" y="640.4" text-anchor="end" font-size="14.5" fill="#e4e4e4">0.1</text>
<line x1="1367.2" y1="718.0" x2="1367.2" y2="723.0" stroke="#a8a8a8" stroke-width="1.5"/>
<text x="1367.2" y="739.0" text-anchor="middle" font-size="14.5" fill="#e4e4e4">0.1</text>
<line x1="1253.6" y1="593.4" x2="1258.6" y2="593.4" stroke="#a8a8a8" stroke-width="1.5"/>
<text x="1253.6" y="598.9" text-anchor="end" font-size="14.5" fill="#e4e4e4">0.15</text>
<line x1="1421.3" y1="718.0" x2="1421.3" y2="723.0" stroke="#a8a8a8" stroke-width="1.5"/>
<text x="1421.3" y="739.0" text-anchor="middle" font-size="14.5" fill="#e4e4e4">0.15</text>
<line x1="1253.6" y1="551.8" x2="1258.6" y2="551.8" stroke="#a8a8a8" stroke-width="1.5"/>
<text x="1253.6" y="557.3" text-anchor="end" font-size="14.5" fill="#e4e4e4">0.2</text>
<line x1="1475.4" y1="718.0" x2="1475.4" y2="723.0" stroke="#a8a8a8" stroke-width="1.5"/>
<text x="1475.4" y="739.0" text-anchor="middle" font-size="14.5" fill="#e4e4e4">0.2</text>
<line x1="1253.6" y1="510.2" x2="1258.6" y2="510.2" stroke="#a8a8a8" stroke-width="1.5"/>
<text x="1253.6" y="515.8" text-anchor="end" font-size="14.5" fill="#e4e4e4">0.25</text>
<line x1="1529.5" y1="718.0" x2="1529.5" y2="723.0" stroke="#a8a8a8" stroke-width="1.5"/>
<text x="1529.5" y="739.0" text-anchor="middle" font-size="14.5" fill="#e4e4e4">0.25</text>
<line x1="1253.6" y1="468.7" x2="1258.6" y2="468.7" stroke="#a8a8a8" stroke-width="1.5"/>
<text x="1253.6" y="474.2" text-anchor="end" font-size="14.5" fill="#e4e4e4">0.3</text>
<line x1="1583.6" y1="718.0" x2="1583.6" y2="723.0" stroke="#a8a8a8" stroke-width="1.5"/>
<text x="1583.6" y="739.0" text-anchor="middle" font-size="14.5" fill="#e4e4e4">0.3</text>
<line x1="1253.6" y1="427.1" x2="1258.6" y2="427.1" stroke="#a8a8a8" stroke-width="1.5"/>
<text x="1253.6" y="432.6" text-anchor="end" font-size="14.5" fill="#e4e4e4">0.35</text>
<line x1="1637.7" y1="718.0" x2="1637.7" y2="723.0" stroke="#a8a8a8" stroke-width="1.5"/>
<text x="1637.7" y="739.0" text-anchor="middle" font-size="14.5" fill="#e4e4e4">0.35</text>
<line x1="1253.6" y1="385.6" x2="1258.6" y2="385.6" stroke="#a8a8a8" stroke-width="1.5"/>
<text x="1253.6" y="391.1" text-anchor="end" font-size="14.5" fill="#e4e4e4">0.4</text>
<line x1="1691.8" y1="718.0" x2="1691.8" y2="723.0" stroke="#a8a8a8" stroke-width="1.5"/>
<text x="1691.8" y="739.0" text-anchor="middle" font-size="14.5" fill="#e4e4e4">0.4</text>
<line x1="1253.6" y1="344.1" x2="1258.6" y2="344.1" stroke="#a8a8a8" stroke-width="1.5"/>
<text x="1253.6" y="349.6" text-anchor="end" font-size="14.5" fill="#e4e4e4">0.45</text>
<line x1="1745.9" y1="718.0" x2="1745.9" y2="723.0" stroke="#a8a8a8" stroke-width="1.5"/>
<text x="1745.9" y="739.0" text-anchor="middle" font-size="14.5" fill="#e4e4e4">0.45</text>
<line x1="1253.6" y1="302.5" x2="1258.6" y2="302.5" stroke="#a8a8a8" stroke-width="1.5"/>
<text x="1253.6" y="308.0" text-anchor="end" font-size="14.5" fill="#e4e4e4">0.5</text>
<line x1="1800.0" y1="718.0" x2="1800.0" y2="723.0" stroke="#a8a8a8" stroke-width="1.5"/>
<text x="1800.0" y="739.0" text-anchor="middle" font-size="14.5" fill="#e4e4e4">0.5</text>
<line x1="1253.6" y1="260.9" x2="1258.6" y2="260.9" stroke="#a8a8a8" stroke-width="1.5"/>
<text x="1253.6" y="266.4" text-anchor="end" font-size="14.5" fill="#e4e4e4">0.55</text>
<line x1="1854.1" y1="718.0" x2="1854.1" y2="723.0" stroke="#a8a8a8" stroke-width="1.5"/>
<text x="1854.1" y="739.0" text-anchor="middle" font-size="14.5" fill="#e4e4e4">0.55</text>
<rect x="1386.7" y="241.5" width="13.6" height="13.6" fill="none" stroke="#fff" stroke-opacity="0.9" stroke-width="1.8"/>
<rect x="1399.1" y="253.7" width="13.6" height="13.6" fill="none" stroke="#fff" stroke-opacity="0.9" stroke-width="1.8"/>
<rect x="1411.6" y="266.0" width="13.6" height="13.6" fill="none" stroke="#fff" stroke-opacity="0.9" stroke-width="1.8"/>
<rect x="1426.9" y="281.4" width="13.6" height="13.6" fill="none" stroke="#fff" stroke-opacity="0.9" stroke-width="1.8"/>
<rect x="1444.5" y="298.2" width="13.6" height="13.6" fill="none" stroke="#fff" stroke-opacity="0.9" stroke-width="1.8"/>
<rect x="1401.6" y="331.4" width="13.6" height="13.6" fill="none" stroke="#fff" stroke-opacity="0.9" stroke-width="1.8"/>
<rect x="1414.4" y="328.3" width="13.6" height="13.6" fill="none" stroke="#fff" stroke-opacity="0.9" stroke-width="1.8"/>
<rect x="1426.9" y="326.6" width="13.6" height="13.6" fill="none" stroke="#fff" stroke-opacity="0.9" stroke-width="1.8"/>
<rect x="1440.6" y="324.0" width="13.6" height="13.6" fill="none" stroke="#fff" stroke-opacity="0.9" stroke-width="1.8"/>
<rect x="1454.0" y="323.3" width="13.6" height="13.6" fill="none" stroke="#fff" stroke-opacity="0.9" stroke-width="1.8"/>
<rect x="1472.3" y="248.7" width="13.6" height="13.6" fill="none" stroke="#fff" stroke-opacity="0.9" stroke-width="1.8"/>
<rect x="1470.7" y="261.2" width="13.6" height="13.6" fill="none" stroke="#fff" stroke-opacity="0.9" stroke-width="1.8"/>
<rect x="1470.7" y="273.3" width="13.6" height="13.6" fill="none" stroke="#fff" stroke-opacity="0.9" stroke-width="1.8"/>
<rect x="1469.4" y="287.3" width="13.6" height="13.6" fill="none" stroke="#fff" stroke-opacity="0.9" stroke-width="1.8"/>
<rect x="1468.7" y="301.7" width="13.6" height="13.6" fill="none" stroke="#fff" stroke-opacity="0.9" stroke-width="1.8"/>
<rect x="1515.0" y="312.0" width="13.6" height="13.6" fill="none" stroke="#fff" stroke-opacity="0.9" stroke-width="1.8"/>
<rect x="1568.8" y="302.4" width="13.6" height="13.6" fill="none" stroke="#fff" stroke-opacity="0.9" stroke-width="1.8"/>
<rect x="1618.9" y="295.6" width="13.6" height="13.6" fill="none" stroke="#fff" stroke-opacity="0.9" stroke-width="1.8"/>
<rect x="1673.9" y="285.8" width="13.6" height="13.6" fill="none" stroke="#fff" stroke-opacity="0.9" stroke-width="1.8"/>
<rect x="1739.3" y="274.5" width="13.6" height="13.6" fill="none" stroke="#fff" stroke-opacity="0.9" stroke-width="1.8"/>
<rect x="1483.8" y="336.4" width="13.6" height="13.6" fill="none" stroke="#fff" stroke-opacity="0.9" stroke-width="1.8"/>
<rect x="1502.8" y="356.2" width="13.6" height="13.6" fill="none" stroke="#fff" stroke-opacity="0.9" stroke-width="1.8"/>
<rect x="1522.0" y="376.8" width="13.6" height="13.6" fill="none" stroke="#fff" stroke-opacity="0.9" stroke-width="1.8"/>
<rect x="1548.2" y="403.0" width="13.6" height="13.6" fill="none" stroke="#fff" stroke-opacity="0.9" stroke-width="1.8"/>
<rect x="1581.7" y="434.7" width="13.6" height="13.6" fill="none" stroke="#fff" stroke-opacity="0.9" stroke-width="1.8"/>
<rect x="1462.4" y="350.2" width="13.6" height="13.6" fill="none" stroke="#fff" stroke-opacity="0.9" stroke-width="1.8"/>
<rect x="1459.7" y="387.6" width="13.6" height="13.6" fill="none" stroke="#fff" stroke-opacity="0.9" stroke-width="1.8"/>
<rect x="1455.6" y="433.0" width="13.6" height="13.6" fill="none" stroke="#fff" stroke-opacity="0.9" stroke-width="1.8"/>
<rect x="1450.6" y="491.2" width="13.6" height="13.6" fill="none" stroke="#fff" stroke-opacity="0.9" stroke-width="1.8"/>
<rect x="1442.2" y="578.1" width="13.6" height="13.6" fill="none" stroke="#fff" stroke-opacity="0.9" stroke-width="1.8"/>
<rect x="1465.5" y="320.1" width="13.6" height="13.6" fill="none" stroke="#111" stroke-width="2"/>
<circle cx="1476.5" cy="327.3" r="4.6" fill="#fff" stroke="#222" stroke-width="1.5"/>
<circle cx="1394.4" cy="247.0" r="4.6" fill="#109e10" stroke="#222" stroke-width="1.5"/>
<circle cx="1407.2" cy="259.0" r="4.6" fill="#48aa4c" stroke="#222" stroke-width="1.5"/>
<circle cx="1419.7" cy="271.9" r="4.6" fill="#62a862" stroke="#222" stroke-width="1.5"/>
<circle cx="1435.0" cy="288.2" r="4.6" fill="#78a878" stroke="#222" stroke-width="1.5"/>
<circle cx="1453.0" cy="306.3" r="4.6" fill="#98aa98" stroke="#222" stroke-width="1.5"/>
<circle cx="1407.5" cy="339.3" r="4.6" fill="#18bcc4" stroke="#222" stroke-width="1.5"/>
<circle cx="1419.7" cy="337.7" r="4.6" fill="#40b2ba" stroke="#222" stroke-width="1.5"/>
<circle cx="1433.7" cy="335.4" r="4.6" fill="#62aeb2" stroke="#222" stroke-width="1.5"/>
<circle cx="1447.1" cy="332.1" r="4.6" fill="#82acac" stroke="#222" stroke-width="1.5"/>
<circle cx="1461.2" cy="330.8" r="4.6" fill="#9cacaa" stroke="#222" stroke-width="1.5"/>
<circle cx="1487.3" cy="255.3" r="4.6" fill="#c0c010" stroke="#222" stroke-width="1.5"/>
<circle cx="1484.7" cy="267.3" r="4.6" fill="#b8b850" stroke="#222" stroke-width="1.5"/>
<circle cx="1483.0" cy="278.4" r="4.6" fill="#b8b870" stroke="#222" stroke-width="1.5"/>
<circle cx="1481.4" cy="293.5" r="4.6" fill="#b8b888" stroke="#222" stroke-width="1.5"/>
<circle cx="1479.1" cy="309.2" r="4.6" fill="#b8b8a0" stroke="#222" stroke-width="1.5"/>
<circle cx="1528.8" cy="318.8" r="4.6" fill="#b88a8a" stroke="#222" stroke-width="1.5"/>
<circle cx="1589.5" cy="309.4" r="4.6" fill="#bc7070" stroke="#222" stroke-width="1.5"/>
<circle cx="1638.4" cy="300.7" r="4.6" fill="#c05858" stroke="#222" stroke-width="1.5"/>
<circle cx="1697.8" cy="289.7" r="4.6" fill="#c04040" stroke="#222" stroke-width="1.5"/>
<circle cx="1754.0" cy="280.1" r="4.6" fill="#d81010" stroke="#222" stroke-width="1.5"/>
<circle cx="1494.3" cy="345.8" r="4.6" fill="#bca2bc" stroke="#222" stroke-width="1.5"/>
<circle cx="1514.0" cy="365.6" r="4.6" fill="#c090c0" stroke="#222" stroke-width="1.5"/>
<circle cx="1534.0" cy="385.2" r="4.6" fill="#c078c4" stroke="#222" stroke-width="1.5"/>
<circle cx="1558.1" cy="409.8" r="4.6" fill="#bc5cc0" stroke="#222" stroke-width="1.5"/>
<circle cx="1588.1" cy="439.3" r="4.6" fill="#b820c0" stroke="#222" stroke-width="1.5"/>
<circle cx="1471.0" cy="360.4" r="4.6" fill="#a2a2bc" stroke="#222" stroke-width="1.5"/>
<circle cx="1464.9" cy="400.1" r="4.6" fill="#9090c2" stroke="#222" stroke-width="1.5"/>
<circle cx="1458.5" cy="448.8" r="4.6" fill="#7878c4" stroke="#222" stroke-width="1.5"/>
<circle cx="1450.2" cy="504.9" r="4.6" fill="#5c5cc4" stroke="#222" stroke-width="1.5"/>
<circle cx="1437.0" cy="584.9" r="4.6" fill="#1414c8" stroke="#222" stroke-width="1.5"/>
<rect x="587.7" y="793.3" width="254.0" height="182.70000000000005" fill="#232323"/>
<text x="699" y="787.5" text-anchor="middle" font-size="14.5" fill="#e4e4e4">RGB Balance</text>
<line x1="581.7" y1="793.3" x2="841.7" y2="793.3" stroke="#8e8e8e" stroke-width="1.5"/>
<text x="582.7" y="798.8" text-anchor="end" font-size="14.5" fill="#e4e4e4">110</text>
<line x1="581.7" y1="839.0" x2="841.7" y2="839.0" stroke="#8e8e8e" stroke-width="1.5"/>
<text x="582.7" y="844.5" text-anchor="end" font-size="14.5" fill="#e4e4e4">105</text>
<line x1="581.7" y1="884.6" x2="841.7" y2="884.6" stroke="#8e8e8e" stroke-width="1.5"/>
<text x="582.7" y="890.1" text-anchor="end" font-size="14.5" fill="#e4e4e4">100</text>
<line x1="581.7" y1="930.3" x2="841.7" y2="930.3" stroke="#8e8e8e" stroke-width="1.5"/>
<text x="582.7" y="935.8" text-anchor="end" font-size="14.5" fill="#e4e4e4">95</text>
<line x1="581.7" y1="976.0" x2="841.7" y2="976.0" stroke="#8e8e8e" stroke-width="1.5"/>
<text x="582.7" y="981.5" text-anchor="end" font-size="14.5" fill="#e4e4e4">90</text>
<path d="M587.7 793.3V983M841.7 793.3V983M587.7 976H841.7" stroke="#a8a8a8" stroke-width="1.8" fill="none"/>
<defs><linearGradient id="gR" x1="0" y1="0" x2="0" y2="1"><stop offset="0" stop-color="#ff5a5a"/><stop offset="1" stop-color="#ff2020"/></linearGradient><linearGradient id="gG" x1="0" y1="0" x2="0" y2="1"><stop offset="0" stop-color="#5cb05c"/><stop offset="1" stop-color="#2a982a"/></linearGradient><linearGradient id="gB" x1="0" y1="0" x2="0" y2="1"><stop offset="0" stop-color="#6060ff"/><stop offset="1" stop-color="#5050ff"/></linearGradient></defs>
<rect x="613.3" y="870.9" width="65.0" height="105.1" fill="url(#gR)" stroke="#000" stroke-width="1.5"/>
<rect x="679.5" y="902.9" width="67.2" height="73.1" fill="url(#gG)" stroke="#000" stroke-width="1.5"/>
<rect x="747.9" y="954.1" width="66.4" height="21.9" fill="url(#gB)" stroke="#000" stroke-width="1.5"/>
<text x="715" y="992" text-anchor="middle" font-size="14.5" fill="#e4e4e4">100%</text></svg>
<div class="a" style="left:1684px;top:560px;width:220px;height:152px;background:#2a2a2a"></div>
<div class="a" style="left:1686px;top:562px;width:217px;height:148px;border:2px solid #8a8a8a;overflow:hidden;background:linear-gradient(135deg,#b4ff00 0%,#d8ff00 30%,#ffff00 55%,#ffd800 78%,#ffb000 100%)"><div style="position:absolute;left:0;top:0;width:100%;height:100%;background:linear-gradient(110deg,#6a9400 0%,#8a9600 45%,#a08800 80%,#9a7000 100%);clip-path:polygon(0 0,100% 0,100% 131px,0 16px)"></div></div>
<svg class="a" style="left:1680px;top:555px" width="240" height="160"><rect x="106.4" y="73.9" width="14" height="14" fill="none" stroke="#fff" stroke-width="1.8"/><circle cx="164" cy="86.60000000000002" r="4.6" fill="#c8c400" stroke="#222" stroke-width="1.5"/></svg>
<div class="a" style="left:275px;top:758px;font-size:30px;color:#f2f2f2">Avg dE2000: 1.77</div>
<div class="a" style="left:272px;top:799px;font-size:30px;color:#f2f2f2">Max dE2000: 4.32</div>
<div class="a" style="left:239px;top:849px;font-size:30px;color:#f2f2f2">Current Reading</div>
<div class="a" style="left:239px;top:888.5px;font-size:25.5px;color:#f2f2f2;letter-spacing:0.3px">x: 0.4311</div>
<div class="a" style="left:399px;top:888.5px;font-size:25.5px;color:#f2f2f2;letter-spacing:0.2px">y: 0.5031</div>
<div class="a" style="left:239px;top:929.5px;font-size:25.5px;color:#f2f2f2;letter-spacing:0.2px">fL: 58.21</div>
<div class="a" style="left:239px;top:964.5px;font-size:25.5px;color:#f2f2f2;letter-spacing:0.55px">cd/m²: 199.45</div>
<div class="a" style="left:862px;top:761px;width:740px;height:240px;background:#1a1a1a;border:1px solid #222"></div>
<div class="a" style="left:864px;top:762px;width:736px;height:28px;background:linear-gradient(#333 0,#303030 13px,#1a1a1a 14px,#141414)"></div>
<div class="a th" style="left:1095.4px;top:767px">20%</div>
<div class="a th" style="left:1203px;top:767px">40%</div>
<div class="a th" style="left:1310.7px;top:767px">60%</div>
<div class="a th" style="left:1419px;top:767px">80%</div>
<div class="a th" style="left:1521px;top:767px">100%</div>
<div class="a" style="left:864px;top:790px;width:736px;height:26.3px;background:#3c3c3c"></div>
<div class="a tl" style="left:881px;top:793px">x: CIE31</div>
<div class="a tv" style="left:1067.7px;top:793px">0.3394</div>
<div class="a tv" style="left:1176px;top:793px">0.3629</div>
<div class="a tv" style="left:1283.7px;top:793px">0.3869</div>
<div class="a tv" style="left:1392px;top:793px">0.4066</div>
<div class="a tv" style="left:1500.6px;top:793px">0.4311</div>
<div class="a" style="left:864px;top:816.3px;width:736px;height:26.3px;background:#858585"></div>
<div class="a tl" style="left:881px;top:819.3px">y: CIE31</div>
<div class="a tv" style="left:1067.7px;top:819.3px">0.3625</div>
<div class="a tv" style="left:1176px;top:819.3px">0.3985</div>
<div class="a tv" style="left:1283.7px;top:819.3px">0.4354</div>
<div class="a tv" style="left:1392px;top:819.3px">0.4656</div>
<div class="a tv" style="left:1500.6px;top:819.3px">0.5031</div>
<div class="a" style="left:864px;top:842.5999999999999px;width:736px;height:26.3px;background:#3c3c3c"></div>
<div class="a tl" style="left:881px;top:845.5999999999999px">Y</div>
<div class="a tv" style="left:1067.7px;top:845.5999999999999px">211.6614</div>
<div class="a tv" style="left:1176px;top:845.5999999999999px">207.8274</div>
<div class="a tv" style="left:1283.7px;top:845.5999999999999px">204.6152</div>
<div class="a tv" style="left:1392px;top:845.5999999999999px">202.3394</div>
<div class="a tv" style="left:1500.6px;top:845.5999999999999px">199.4469</div>
<div class="a" style="left:864px;top:868.8999999999999px;width:736px;height:26.3px;background:#858585"></div>
<div class="a tl" style="left:881px;top:871.8999999999999px">Target x:CIE31</div>
<div class="a tv" style="left:1067.7px;top:871.8999999999999px">0.3344</div>
<div class="a tv" style="left:1176px;top:871.8999999999999px">0.3564</div>
<div class="a tv" style="left:1283.7px;top:871.8999999999999px">0.3773</div>
<div class="a tv" style="left:1392px;top:871.8999999999999px">0.3969</div>
<div class="a tv" style="left:1500.6px;top:871.8999999999999px">0.4193</div>
<div class="a" style="left:864px;top:895.1999999999998px;width:736px;height:26.3px;background:#3c3c3c"></div>
<div class="a tl" style="left:881px;top:898.1999999999998px">Target y:CIE31</div>
<div class="a tv" style="left:1067.7px;top:898.1999999999998px">0.3648</div>
<div class="a tv" style="left:1176px;top:898.1999999999998px">0.4013</div>
<div class="a tv" style="left:1283.7px;top:898.1999999999998px">0.4358</div>
<div class="a tv" style="left:1392px;top:898.1999999999998px">0.4682</div>
<div class="a tv" style="left:1500.6px;top:898.1999999999998px">0.5053</div>
<div class="a" style="left:864px;top:921.4999999999998px;width:736px;height:26.3px;background:#858585"></div>
<div class="a tl" style="left:881px;top:924.4999999999998px">Target Y</div>
<div class="a tv" style="left:1067.7px;top:924.4999999999998px">219.1705</div>
<div class="a tv" style="left:1176px;top:924.4999999999998px">215.3235</div>
<div class="a tv" style="left:1283.7px;top:924.4999999999998px">212.3675</div>
<div class="a tv" style="left:1392px;top:924.4999999999998px">210.0477</div>
<div class="a tv" style="left:1500.6px;top:924.4999999999998px">207.8050</div>
<div class="a" style="left:864px;top:947.7999999999997px;width:736px;height:26.3px;background:#3c3c3c"></div>
<div class="a tl" style="left:881px;top:950.7999999999997px">ΔE 2000</div>
<div class="a tv" style="left:1067.7px;top:950.7999999999997px">3.3996</div>
<div class="a tv" style="left:1176px;top:950.7999999999997px">2.6669</div>
<div class="a tv" style="left:1283.7px;top:950.7999999999997px">2.5854</div>
<div class="a tv" style="left:1392px;top:950.7999999999997px">2.5558</div>
<div class="a tv" style="left:1500.6px;top:950.7999999999997px">2.6478</div>
<div class="a" style="left:864px;top:974.0999999999997px;width:736px;height:26.3px;background:#858585"></div>
<div class="a tl" style="left:881px;top:977.0999999999997px">ΔE ITP</div>
<div class="a tv" style="left:1067.7px;top:977.0999999999997px">4.5343</div>
<div class="a tv" style="left:1176px;top:977.0999999999997px">5.0517</div>
<div class="a tv" style="left:1283.7px;top:977.0999999999997px">6.0277</div>
<div class="a tv" style="left:1392px;top:977.0999999999997px">6.1423</div>
<div class="a tv" style="left:1500.6px;top:977.0999999999997px">7.4336</div>
<div class="a" style="left:225px;top:1076px;width:1692px;height:70px;background:linear-gradient(#484848,#3a3a3a 25%,#2e2e2e 70%,#2a2a2a 97%,#1e1e1e)"></div>
<div class="a btn" style="left:226px;top:1077px;width:51px;height:69px"></div>
<div class="circ" style="left:243px;top:1078.5px;width:17px;height:17px;background:linear-gradient(#5a5a5a,#8a8a8a)"></div>
<div class="a" style="left:246.5px;top:1083px;border-left:5px solid transparent;border-right:5px solid transparent;border-bottom:5px solid #222"></div>
<div class="a" style="left:232px;top:1105.5px;width:39.5px;height:34px;background:#ffff00;border:1px solid #bbb000;border-radius:4px"></div>
<div class="a btn" style="left:283.7px;top:1077px;width:168.7px;height:69px;background:linear-gradient(#a2a2a2,#8e8e8e 40%,#6e6e6e 70%,#555)"></div>
<div class="a" style="left:289.2px;top:1082px;width:157.7px;height:40.5px;background:#c2c2a2;border-radius:4px;box-shadow:inset 2px 2px 1px rgba(0,0,0,0.25);border:1px solid rgba(0,0,0,0.2)"></div>
<div class="a" style="left:283.7px;top:1128.5px;width:168.7px;text-align:center;font-size:12px;color:#2a2a2a;font-weight:bold">20%</div>
<div class="a btn" style="left:454.8px;top:1077px;width:167.7px;height:69px;background:linear-gradient(#a2a2a2,#8e8e8e 40%,#6e6e6e 70%,#555)"></div>
<div class="a" style="left:460.3px;top:1082px;width:156.7px;height:40.5px;background:#c2c185;border-radius:4px;box-shadow:inset 2px 2px 1px rgba(0,0,0,0.25);border:1px solid rgba(0,0,0,0.2)"></div>
<div class="a" style="left:454.8px;top:1128.5px;width:167.7px;text-align:center;font-size:12px;color:#2a2a2a;font-weight:bold">40%</div>
<div class="a btn" style="left:625.8px;top:1077px;width:167.8px;height:69px;background:linear-gradient(#a2a2a2,#8e8e8e 40%,#6e6e6e 70%,#555)"></div>
<div class="a" style="left:631.3px;top:1082px;width:156.8px;height:40.5px;background:#c2c06b;border-radius:4px;box-shadow:inset 2px 2px 1px rgba(0,0,0,0.25);border:1px solid rgba(0,0,0,0.2)"></div>
<div class="a" style="left:625.8px;top:1128.5px;width:167.8px;text-align:center;font-size:12px;color:#2a2a2a;font-weight:bold">60%</div>
<div class="a btn" style="left:796.4px;top:1077px;width:168.6px;height:69px;background:linear-gradient(#a2a2a2,#8e8e8e 40%,#6e6e6e 70%,#555)"></div>
<div class="a" style="left:801.9px;top:1082px;width:157.6px;height:40.5px;background:#c0c04b;border-radius:4px;box-shadow:inset 2px 2px 1px rgba(0,0,0,0.25);border:1px solid rgba(0,0,0,0.2)"></div>
<div class="a" style="left:796.4px;top:1128.5px;width:168.6px;text-align:center;font-size:12px;color:#2a2a2a;font-weight:bold">80%</div>
<div class="a btn" style="left:967.5px;top:1077px;width:167.5px;height:69px;background:linear-gradient(#1c1c1c,#1e1e1e 60%,#2c2c2c 97%,#1e1e1e)"></div>
<div class="a" style="left:973.0px;top:1082px;width:156.5px;height:40.5px;background:#c4c200;border-radius:4px;box-shadow:inset 2px 2px 1px rgba(0,0,0,0.25);border:1px solid #333"></div>
<div class="a" style="left:967.5px;top:1128.5px;width:167.5px;text-align:center;font-size:12px;color:#fff;font-weight:bold">100%</div>
<div class="a" style="left:1557px;top:1076px;width:53px;height:70px;border-radius:5px 5px 0 0;background:linear-gradient(#a8a8a8,#8c8c8c 30%,#7a7a7a 60%,#8a8a8a)"></div>
<div class="a" style="left:1557px;top:1096.5px;width:53px;height:1px;background:#555"></div>
<div class="circ" style="left:1575px;top:1078px;width:17px;height:17px;background:linear-gradient(#7a7a7a,#a0a0a0)"></div>
<div class="a" style="left:1578.5px;top:1083px;border-left:5px solid transparent;border-right:5px solid transparent;border-bottom:5px solid #222"></div>
<div class="a" style="left:1566.5px;top:1103.5px;width:34px;height:34px;border:3px solid #1e1e1e;border-radius:6px;background:linear-gradient(#d8d8d8,#b8b8b8 48%,#8e8e8e 52%,#a8a8a8)"></div>
<div class="a" style="left:1575.5px;top:1113.5px;width:16.5px;height:16px;background:#000"></div>
<div class="a" style="left:1612.5px;top:1076.5px;width:50.9px;height:34px;border-radius:5px 0 0 0;background:linear-gradient(#a8a8a8,#999 40%,#7e7e7e);border-right:1px solid #333"></div>
<div class="circ" style="left:1627.5px;top:1080px;width:21px;height:21px;background:linear-gradient(#6a6a6a,#8a8a8a 70%,#9a9a9a)"></div>
<div class="a" style="left:1663.4px;top:1076.5px;width:50.9px;height:34px;border-radius:0;background:linear-gradient(#a8a8a8,#999 40%,#7e7e7e);border-right:1px solid #333"></div>
<div class="circ" style="left:1678.4px;top:1080px;width:21px;height:21px;background:linear-gradient(#6a6a6a,#8a8a8a 70%,#9a9a9a)"></div>
<div class="a" style="left:1714.3px;top:1076.5px;width:50.9px;height:34px;border-radius:0;background:linear-gradient(#a8a8a8,#999 40%,#7e7e7e);border-right:1px solid #333"></div>
<div class="circ" style="left:1729.3px;top:1080px;width:21px;height:21px;background:linear-gradient(#6a6a6a,#8a8a8a 70%,#9a9a9a)"></div>
<div class="a" style="left:1765.2px;top:1076.5px;width:50.9px;height:34px;border-radius:0;background:linear-gradient(#a8a8a8,#999 40%,#7e7e7e);border-right:1px solid #333"></div>
<div class="circ" style="left:1780.2px;top:1080px;width:21px;height:21px;background:linear-gradient(#6a6a6a,#8a8a8a 70%,#9a9a9a)"></div>
<div class="a" style="left:1816.1px;top:1076.5px;width:50.9px;height:34px;border-radius:0;background:linear-gradient(#a8a8a8,#999 40%,#7e7e7e);border-right:1px solid #333"></div>
<div class="circ" style="left:1831.1px;top:1080px;width:21px;height:21px;background:linear-gradient(#6a6a6a,#8a8a8a 70%,#9a9a9a)"></div>
<div class="a" style="left:1867.0px;top:1076.5px;width:51.0px;height:34px;border-radius:0 5px 0 0;background:linear-gradient(#a8a8a8,#999 40%,#7e7e7e);border-right:1px solid #333"></div>
<div class="circ" style="left:1882.0px;top:1080px;width:21px;height:21px;background:linear-gradient(#6a6a6a,#8a8a8a 70%,#9a9a9a)"></div>
<svg class="a" style="left:1612px;top:1076px" width="308" height="34"><g fill="#333" stroke="#333" opacity="0.6">
<rect x="21" y="9" width="7" height="7" stroke="none"/>
<path d="M73 8 L81 14 L73 20Z" stroke="none"/>
<path d="M121 8 h-2 v12 h2 M131 8 h2 v12 h-2 M124 17 h1 M127 17 h1" fill="none" stroke-width="1.6"/>
<path d="M173 14 c-3 -4 -7 -4 -7 0 c0 4 4 4 7 0 c3 -4 7 -4 7 0 c0 4 -4 4 -7 0" fill="none" stroke-width="1.8"/>
<path d="M226 18 a6 6 0 1 1 8 -7" fill="none" stroke-width="2"/><path d="M236 7 L236 13 L230 12Z" stroke="none"/>
</g></svg>
<div class="a" style="left:1612.5px;top:1110.5px;width:152.5px;height:34px;background:linear-gradient(#ababab,#9a9a9a 50%,#8c8c8c)"></div>
<div class="a" style="left:1765.5px;top:1110.5px;width:152.5px;height:34px;background:linear-gradient(#ababab,#9a9a9a 50%,#8c8c8c);border-left:1px solid #333"></div>
<div class="circ" style="left:1634px;top:1117px;width:22px;height:22px;background:linear-gradient(#7c7c7c,#a4a4a4)"></div>
<div class="circ" style="left:1876px;top:1117px;width:22px;height:22px;background:linear-gradient(#7c7c7c,#a4a4a4)"></div>
<div class="a" style="left:1879px;top:1114px;font-size:20px;font-weight:bold;color:#333">»</div>
<div class="a" style="left:1675px;top:1112px;font-size:25px;color:#2a2a2a;letter-spacing:0.6px">Back</div>
<div class="a" style="left:1797px;top:1112px;font-size:25px;color:#2a2a2a;letter-spacing:1.2px">Next</div>
<svg class="a" style="left:1600px;top:1070px" width="320" height="76" font-family="Liberation Sans, sans-serif">
<g opacity="0.85" transform="translate(-1600,-1070)">
<path d="M1670 1092 L1631 1084.6 L1632.5 1120.4 L1656.4 1131.7 L1697 1119.8 L1674.3 1115.8 M1640.5 1116.4 L1671 1113 L1670 1092" fill="none" stroke="#f2f2f2" stroke-width="5.5" stroke-linejoin="round"/>
<path d="M1670 1092 L1631 1084.6 L1632.5 1120.4 L1656.4 1131.7 L1697 1119.8 L1674.3 1115.8 M1640.5 1116.4 L1671 1113 L1670 1092" fill="none" stroke="#b0303c" stroke-width="3.2" stroke-linejoin="miter"/>
<path d="M1643.2 1096.5 L1653.1 1111.1 L1673.7 1083.9" fill="none" stroke="#f0f0f0" stroke-width="6" stroke-linejoin="round"/>
<path d="M1643.2 1096.5 L1653.1 1111.1 L1673.7 1083.9" fill="none" stroke="#333" stroke-width="3.8"/>
<text x="1675" y="1112.5" font-size="25.5" font-weight="bold" fill="#ad3a44" stroke="#e8e8e8" stroke-width="2" paint-order="stroke" letter-spacing="-0.1">NOTEBOOK</text>
<text x="1823.5" y="1112.5" font-size="25.5" fill="#3a3a3a" stroke="#e8e8e8" stroke-width="2.2" paint-order="stroke" letter-spacing="-0.4">CHECK</text>
</g></svg>
</body></html>
